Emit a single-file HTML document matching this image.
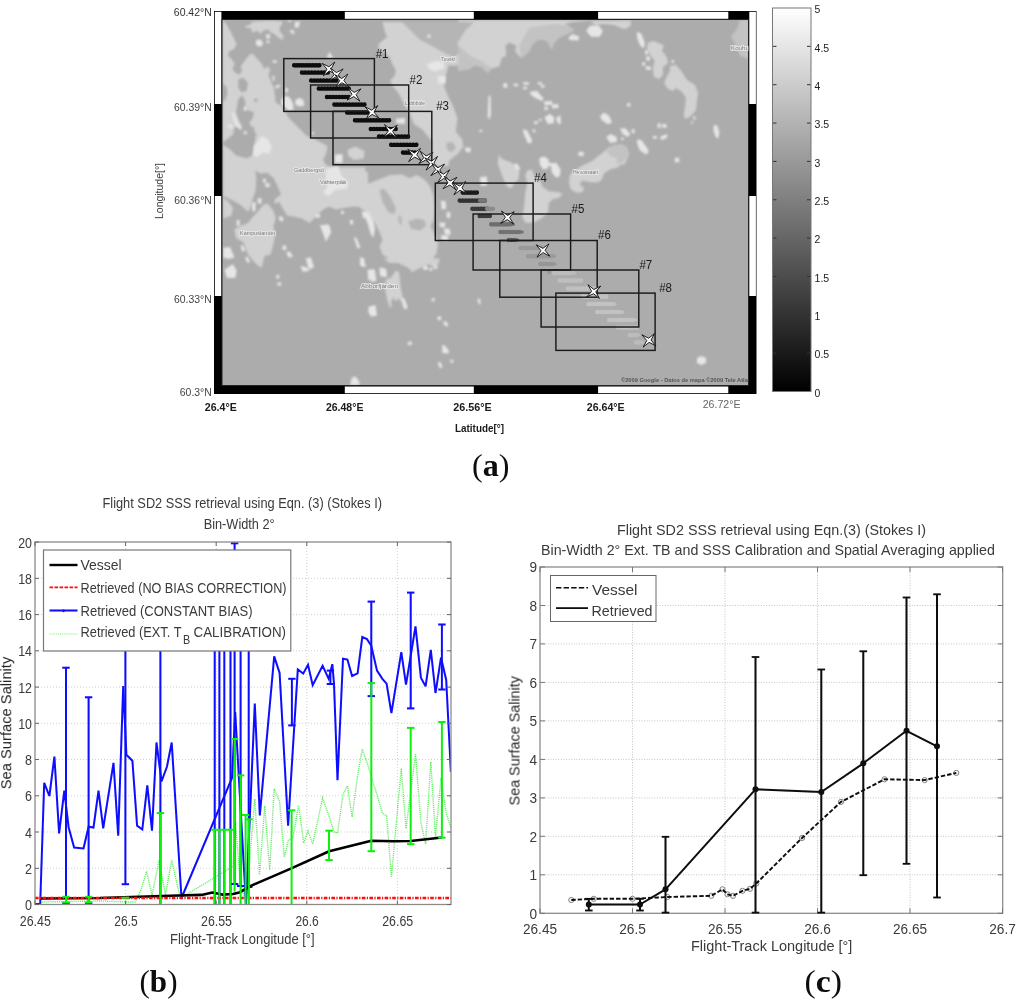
<!DOCTYPE html>
<html lang="en"><head><meta charset="utf-8"><title>Figure: Flight SD2 SSS retrieval</title>
<style>html,body{margin:0;padding:0;background:#fff}body{width:1016px;height:1000px;overflow:hidden}svg{display:block}</style></head>
<body>
<svg width="1016" height="1000" viewBox="0 0 1016 1000">
<defs>
<filter id="b1" x="-5%" y="-5%" width="110%" height="110%"><feGaussianBlur stdDeviation="1.1"/></filter>
<filter id="b08" x="-5%" y="-5%" width="110%" height="110%"><feGaussianBlur stdDeviation="0.8"/></filter>
<filter id="b05" x="-5%" y="-5%" width="110%" height="110%"><feGaussianBlur stdDeviation="0.5"/></filter>
<filter id="bt" x="-10%" y="-30%" width="120%" height="160%"><feGaussianBlur stdDeviation="0.45"/></filter>
<filter id="bc" x="-2%" y="-2%" width="104%" height="104%"><feGaussianBlur stdDeviation="0.4"/></filter>
<clipPath id="mapclip"><rect x="222" y="19.5" width="526.5" height="366"/></clipPath>
<clipPath id="bclip"><rect x="35" y="542" width="416" height="362.5"/></clipPath>
<linearGradient id="cb" x1="0" y1="0" x2="0" y2="1"><stop offset="0" stop-color="#ffffff"/><stop offset="1" stop-color="#000000"/></linearGradient>
</defs>
<rect width="1016" height="1000" fill="#fff"/>
<g id="panel-a">
<rect x="214" y="11" width="542.5" height="383" fill="#000"/>
<rect x="214.8" y="11.8" width="6.6" height="92.2" fill="#fff"/>
<rect x="214.8" y="196" width="6.6" height="100" fill="#fff"/>
<rect x="749.3" y="11.8" width="6.6" height="92.2" fill="#fff"/>
<rect x="749.3" y="196" width="6.6" height="100" fill="#fff"/>
<rect x="344.8" y="11.8" width="129" height="7" fill="#fff"/>
<rect x="598.1" y="11.8" width="130.2" height="7" fill="#fff"/>
<rect x="344.8" y="386.5" width="129" height="6.7" fill="#fff"/>
<rect x="598.1" y="386.5" width="130.2" height="6.7" fill="#fff"/>
<rect x="222" y="19" width="527" height="367" fill="#acacac"/>
<g clip-path="url(#mapclip)"><g filter="url(#b1)">
<polygon points="222.8,20.8 225.2,22.6 230.0,30.4 233.0,36.4 236.6,44.2 234.2,49.0 228.8,51.4 228.2,55.6 231.8,59.8 234.8,63.4 232.4,68.8 234.8,72.4 239.0,74.8 242.0,71.2 240.8,66.4 243.2,62.8 249.8,54.4 252.8,53.8 257.6,59.2 261.8,64.0 264.2,68.8 268.4,66.4 270.2,70.0 268.4,74.8 270.8,80.8 273.8,88.0 275.0,95.2 275.6,102.4 281.6,106.0 285.2,112.0 288.8,118.0 294.8,124.0 302.0,131.2 306.8,136.0 306.8,148.0 222.8,148.0" fill="#d2d2d2"/>
<polygon points="245.0,26.2 250.4,24.4 252.8,21.4 268.4,20.8 278.0,20.8 280.4,25.6 279.2,30.4 283.4,35.8 282.8,40.0 278.0,37.6 274.4,34.0 270.8,32.8 268.4,29.2 263.6,30.4 260.0,34.0 257.6,30.4 252.8,32.8 250.4,28.0 246.2,28.0" fill="#d2d2d2"/>
<polygon points="382.5,22.0 402.0,22.0 474.0,22.0 480.0,22.0 480.0,65.5 469.5,65.5 448.5,65.5 445.5,76.0 444.0,86.5 448.5,97.0 453.0,106.0 457.5,118.0 456.0,130.0 453.0,143.5 450.0,155.5 448.5,166.0 432.0,166.0 432.0,140.5 427.5,136.0 423.0,130.0 414.0,124.0 411.7,118.0 409.5,112.0 405.0,106.0 402.0,100.0 399.0,94.0 393.0,86.5 390.0,80.5 394.5,76.0 396.0,70.0 393.0,65.5 390.0,58.0 384.0,52.0 378.0,47.5 379.5,43.0 387.0,37.0 384.7,31.0" fill="#d2d2d2"/>
<polygon points="348.0,149.5 355.5,146.5 364.5,151.0 363.7,158.5 354.0,160.0 348.0,155.5" fill="#d2d2d2"/>
<polygon points="223.2,136.0 306.8,136.0 314.0,139.0 323.0,143.5 327.5,146.5 326.0,154.0 323.0,160.0 326.0,165.2 333.5,167.2 368.0,167.2 368.0,205.0 362.0,207.2 353.0,206.5 344.0,208.0 336.5,209.5 329.0,206.5 323.0,209.5 317.0,215.5 309.5,223.0 302.0,218.5 296.0,217.0 287.0,215.5 282.5,208.0 279.5,202.0 274.2,203.5 275.0,199.0 281.0,194.5 278.0,187.0 273.5,178.0 267.5,172.7 260.0,173.5 255.5,170.5 256.2,179.5 255.8,190.0 253.2,197.5 250.2,208.0 248.0,211.7 240.5,205.0 233.0,200.5 223.2,196.0" fill="#d2d2d2"/>
<polygon points="263.0,205.0 267.5,203.5 273.5,211.0 275.7,218.5 273.5,226.0 275.0,235.0 273.5,244.0 270.5,254.5 264.5,256.0 261.5,268.0 255.5,263.5 248.0,254.5 243.5,242.5 236.0,238.0 234.5,229.0 240.5,226.0 248.0,223.0 252.5,217.0 258.5,211.0" fill="#d2d2d2"/>
<polygon points="223.2,197.5 228.5,202.0 233.0,208.0 231.5,215.5 223.2,218.5" fill="#d2d2d2"/>
<polygon points="382.5,178.0 390.0,175.0 402.0,174.2 409.5,178.0 417.0,175.0 424.5,179.5 430.5,187.0 433.5,196.0 434.2,208.0 433.5,220.0 430.5,226.0 435.0,235.0 438.0,244.0 436.5,253.0 432.0,260.5 427.5,265.0 420.0,268.0 412.5,271.7 405.0,265.0 397.5,260.5 390.0,259.0 382.5,254.5 379.5,247.0 382.5,239.5 379.5,232.0 375.0,223.0 369.0,214.0 360.0,208.0 360.0,187.0 375.0,181.0" fill="#d2d2d2"/>
<polygon points="432.0,128.5 453.0,128.5 462.0,139.0 463.5,146.5 457.5,154.0 450.0,160.0 444.0,164.5 438.0,160.0 433.5,152.5 432.0,142.0" fill="#d2d2d2"/>
<polygon points="383.6,258.5 439.7,258.5 438.3,264.4 433.8,267.4 429.4,264.4 425.0,263.0 419.1,264.4 414.6,268.9 411.7,271.8 408.7,267.4 404.3,265.9 398.4,263.0 389.5,263.0" fill="#d2d2d2"/>
<polygon points="395.4,271.1 399.1,271.8 400.6,286.6 402.8,298.4 407.2,307.2 404.3,309.5 401.3,301.3 398.4,298.4 395.4,301.3 393.2,296.9 391.0,302.8 391.7,307.2 389.5,307.2 387.3,299.9 385.1,289.5 385.8,279.2 391.0,277.7" fill="#d2d2d2"/>
<polygon points="458.2,19.9 458.2,71.1 470.0,69.1 473.9,65.2 481.8,67.2 487.7,73.1 491.7,68.2 499.5,66.2 501.5,58.3 506.4,55.4 505.4,45.5 509.4,42.6 516.3,45.5 515.3,51.4 521.2,58.3 529.1,51.4 533.0,43.6 538.9,39.6 546.8,40.6 551.7,49.5 553.7,43.6 558.6,37.7 568.4,33.7 574.3,29.8 568.4,25.8 564.5,23.9 572.4,21.9 588.1,20.7 607.8,20.7 631.4,20.7 629.4,26.8 623.5,28.8 613.7,24.9 603.9,23.9 596.0,24.9 588.1,19.9" fill="#d2d2d2"/>
<polygon points="648.1,42.6 655.0,41.6 663.9,45.5 661.9,50.4 666.9,57.3 667.8,63.2 661.9,67.2 662.9,75.1 659.0,79.0 654.1,75.1 653.1,67.2 655.0,59.3 650.1,53.4 647.2,47.5" fill="#d2d2d2"/>
<polygon points="588.1,166.0 596.0,157.7 603.9,151.8 607.8,147.9 615.7,144.9 625.5,145.9 628.5,151.8 627.5,157.7 621.6,162.7 615.7,166.0" fill="#d2d2d2"/>
<polygon points="648.0,43.0 653.0,41.0 663.0,46.0 660.0,50.0 665.0,57.0 668.0,63.0 663.0,67.0 663.0,74.0 659.0,79.0 654.0,77.0 653.0,69.0 655.0,61.0 650.0,55.0 647.0,49.0" fill="#d2d2d2"/>
<polygon points="670.0,66.0 676.0,65.0 682.0,72.0 687.0,80.0 695.0,85.0 698.0,93.0 697.0,100.0 696.0,110.0 691.0,116.0 686.0,119.0 683.6,116.0 685.0,107.0 686.0,98.0 682.0,92.0 676.0,88.0 673.0,91.0 668.0,89.0 664.0,83.0 667.0,76.0 670.0,71.0" fill="#d2d2d2"/>
<polygon points="740.0,22.0 744.0,28.0 743.0,36.0 749.0,38.0 749.0,56.0 744.0,54.0 740.0,48.0 736.0,40.0 738.0,32.0" fill="#d2d2d2"/>
<polygon points="620.0,20.4 630.0,20.4 631.0,25.0 626.0,29.0 620.0,28.0" fill="#d2d2d2"/>
<polygon points="620.0,146.0 626.0,147.0 629.0,154.0 625.0,164.0 620.0,165.0" fill="#d2d2d2"/>
<polygon points="569.6,175.4 573.5,171.5 582.4,165.6 590.2,161.7 598.1,157.7 606.0,149.8 613.9,145.9 621.7,143.9 627.6,147.9 628.6,155.7 623.7,161.7 617.8,167.6 609.9,169.5 604.0,173.5 602.0,179.4 598.1,182.3 590.2,182.3 582.4,180.4 579.4,184.3 584.3,188.2 582.4,192.2 576.5,192.8 570.6,189.2 569.0,182.3" fill="#d2d2d2"/>
<polygon points="498.7,154.8 501.7,158.7 509.5,161.7 515.4,165.6 519.4,171.5 518.4,179.4 513.5,184.3 511.5,188.2 507.6,187.2 503.6,179.4 500.7,171.5 497.7,163.6" fill="#d2d2d2"/>
<polygon points="527.2,170.5 532.2,169.5 534.1,175.4 539.1,179.4 543.0,187.2 548.9,191.2 558.7,192.2 562.7,194.1 558.7,198.1 552.8,199.1 548.9,203.0 547.9,212.8 541.0,218.7 533.1,222.7 525.3,222.7 522.3,216.8 524.3,205.0 525.3,193.1 527.2,183.3 525.3,175.4" fill="#d2d2d2"/>
<polygon points="458.2,45.5 470.0,55.4 481.8,61.3 491.7,68.2 487.7,73.1 481.8,67.2 473.9,65.2 470.0,69.1 458.2,71.1" fill="#c3c3c3"/>
<polygon points="519.2,45.5 529.1,27.8 552.7,23.9 568.4,25.8 574.3,29.8 568.4,33.7 558.6,37.7 553.7,43.6 551.7,49.5 546.8,40.6 538.9,39.6 533.0,43.6 529.1,51.4 521.2,58.3" fill="#c3c3c3"/>
<polygon points="731.0,36.0 735.0,32.0 738.0,26.0 740.0,20.0 749.0,20.0 749.0,59.0 740.0,56.0 736.0,46.0" fill="#c3c3c3"/>
<polygon points="606.0,149.8 613.9,145.9 621.7,143.9 627.6,147.9 628.6,155.7 623.7,161.7 617.8,164.6 615.8,157.7 609.9,155.7" fill="#c3c3c3"/>
<polygon points="402.0,22.0 474.0,22.0 465.0,31.0 457.5,43.0 459.0,52.0 454.5,58.0 445.5,53.5 439.5,50.5 432.0,46.0 420.0,40.0 409.5,29.5" fill="#b5b5b5"/>
<polygon points="379.5,190.0 384.0,188.5 390.0,196.0 396.0,208.0 394.5,214.0 388.5,212.5 382.5,202.0" fill="#b5b5b5"/>
<polygon points="408.0,221.5 417.0,218.5 424.5,220.0 426.0,226.0 420.0,230.5 411.0,229.0" fill="#b5b5b5"/>
<polygon points="398.2,215.5 401.2,216.2 402.0,224.5 399.0,223.7" fill="#b5b5b5"/>
<polygon points="446.2,142.7 453.0,142.0 456.0,148.0 451.5,152.5 447.0,149.5" fill="#b5b5b5"/>
<polygon points="222.8,83.2 226.4,86.8 227.6,94.0 225.2,100.0 222.8,102.4" fill="#acacac"/>
<polygon points="238.4,98.8 242.0,95.2 245.0,100.0 245.6,107.2 249.2,110.8 254.0,112.0 252.8,118.0 249.2,122.8 252.8,128.8 257.6,136.0 248.0,136.0 245.6,131.2 242.0,126.4 238.4,119.2 236.0,112.0 237.2,104.8" fill="#acacac"/>
<polygon points="238.4,79.0 243.8,77.8 248.0,83.2 246.8,90.4 242.0,92.8 238.4,88.0" fill="#acacac"/>
<polygon points="254.0,98.8 257.6,98.8 257.6,101.8 254.0,101.8" fill="#acacac"/>
<polygon points="223.2,145.0 230.0,149.5 236.0,155.5 246.5,158.5 252.5,155.5 254.0,146.5 255.5,139.0 254.0,127.0 234.5,127.0 233.0,134.5 227.0,139.0 223.2,142.0" fill="#acacac"/>
<polygon points="364.5,165.2 432.0,165.2 432.0,179.5 424.5,179.5 417.0,175.0 409.5,178.0 402.0,174.2 390.0,175.0 382.5,178.0 375.0,175.0 366.0,172.0" fill="#acacac"/>
</g><g filter="url(#b08)">
<polygon points="255.4,41.8 257.6,39.4 261.2,40.0 263.0,43.6 261.2,46.6 257.0,46.0" fill="#e6e6e6"/>
<polygon points="266.0,34.6 269.6,34.0 270.2,38.2 266.6,38.8" fill="#e6e6e6"/>
<polygon points="266.6,40.6 269.6,40.6 269.6,43.0 266.6,43.0" fill="#e6e6e6"/>
<polygon points="290.0,29.8 293.6,30.2 294.8,34.0 291.2,33.4" fill="#e6e6e6"/>
<polygon points="294.8,22.0 300.2,21.4 298.4,27.4 294.8,28.0" fill="#e6e6e6"/>
<polygon points="288.2,20.2 291.2,20.2 291.2,22.0 288.2,22.0" fill="#e6e6e6"/>
<polygon points="279.2,21.4 281.6,21.4 281.6,25.0 279.2,25.0" fill="#e6e6e6"/>
<polygon points="272.6,60.4 276.8,60.4 276.8,62.8 272.6,62.8" fill="#e6e6e6"/>
<polygon points="329.6,51.8 333.2,58.0 326.6,58.0" fill="#e6e6e6"/>
<polygon points="272.6,75.4 274.4,75.4 274.4,80.8 272.6,80.8" fill="#e6e6e6"/>
<polygon points="274.4,86.8 279.2,84.2 280.4,86.2 276.2,88.8" fill="#e6e6e6"/>
<polygon points="285.2,88.0 288.2,88.0 287.6,92.8 285.2,92.2" fill="#e6e6e6"/>
<polygon points="281.0,100.0 285.2,95.8 290.0,97.6 293.0,103.6 293.6,109.6 288.8,110.8 285.2,107.2 281.6,105.4" fill="#e6e6e6"/>
<polygon points="295.4,100.0 299.6,97.8 303.4,100.0 304.4,105.4 299.6,106.6 295.4,104.8" fill="#e6e6e6"/>
<polygon points="243.8,106.6 246.8,106.6 246.8,110.8 243.8,110.8" fill="#e6e6e6"/>
<polygon points="228.2,124.6 232.4,124.6 232.4,128.2 228.2,128.2" fill="#e6e6e6"/>
<polygon points="231.2,112.0 234.2,113.2 237.2,121.6 242.0,128.8 240.2,130.0 234.8,124.0" fill="#e6e6e6"/>
<polygon points="243.8,131.2 246.8,131.2 246.8,134.2 243.8,134.2" fill="#e6e6e6"/>
<polygon points="311.6,131.8 314.0,131.8 314.0,134.2 311.6,134.2" fill="#e6e6e6"/>
<polygon points="427.5,64.0 435.0,61.0 444.0,61.7 444.0,68.5 435.0,71.5 428.2,68.5" fill="#e6e6e6"/>
<polygon points="438.0,76.0 445.5,76.0 445.5,83.5 438.0,83.5" fill="#e6e6e6"/>
<polygon points="396.0,118.7 405.0,118.0 405.0,124.0 396.0,123.2" fill="#e6e6e6"/>
<polygon points="427.5,34.7 430.5,34.7 430.5,37.7 427.5,37.7" fill="#e6e6e6"/>
<polygon points="254.0,146.5 261.5,136.0 267.5,139.0 272.0,146.5 269.0,154.0 263.0,152.5 257.0,157.0 253.2,155.5" fill="#e6e6e6"/>
<polygon points="326.0,169.0 338.0,166.0 341.0,175.0 348.5,182.5 347.0,188.5 335.0,190.0 329.0,196.0 323.0,193.0 327.5,187.0 326.0,178.0" fill="#e6e6e6"/>
<polygon points="320.0,225.2 329.0,224.5 331.2,232.0 326.0,241.7" fill="#e6e6e6"/>
<polygon points="305.7,258.2 311.0,257.5 314.0,267.2 308.7,269.5" fill="#e6e6e6"/>
<polygon points="300.5,265.7 306.5,267.2 309.5,271.0 302.7,271.7" fill="#e6e6e6"/>
<polygon points="224.7,269.5 233.0,264.2 236.7,271.0 235.2,277.7 227.0,277.7" fill="#e6e6e6"/>
<polygon points="223.2,247.7 230.0,247.0 234.5,257.5 228.5,259.0 223.2,257.5" fill="#e6e6e6"/>
<polygon points="286.2,252.2 290.0,251.5 293.0,256.7 288.5,257.5" fill="#e6e6e6"/>
<polygon points="282.5,245.5 286.2,245.5 286.2,250.0 282.5,250.0" fill="#e6e6e6"/>
<polygon points="245.0,257.5 248.0,256.7 250.2,262.0 247.2,262.7" fill="#e6e6e6"/>
<polygon points="240.5,245.5 243.5,245.5 245.7,250.7 242.0,251.5" fill="#e6e6e6"/>
<polygon points="353.7,237.2 356.7,238.0 360.5,247.7 357.5,248.5" fill="#e6e6e6"/>
<polygon points="359.7,257.5 362.7,258.2 365.7,266.5 362.7,267.2" fill="#e6e6e6"/>
<polygon points="251.7,202.7 255.5,202.0 255.5,211.0 252.5,211.7" fill="#e6e6e6"/>
<polygon points="257.7,198.2 261.5,198.2 261.5,203.5 257.7,203.5" fill="#e6e6e6"/>
<polygon points="263.0,178.7 266.0,178.7 266.0,182.5 263.0,182.5" fill="#e6e6e6"/>
<polygon points="265.2,183.2 269.7,183.2 269.7,187.0 265.2,187.0" fill="#e6e6e6"/>
<polygon points="236.7,220.0 239.7,220.0 239.7,226.0 236.7,226.0" fill="#e6e6e6"/>
<polygon points="278.7,216.2 283.2,217.0 283.2,221.5 279.5,220.7" fill="#e6e6e6"/>
<polygon points="315.5,214.0 320.0,214.0 320.0,217.7 315.5,217.7" fill="#e6e6e6"/>
<polygon points="362.0,211.0 368.0,211.7 368.0,218.5 362.7,217.7" fill="#e6e6e6"/>
<polygon points="335.0,154.7 342.5,154.0 342.5,163.0 335.0,163.0" fill="#e6e6e6"/>
<polygon points="341.0,211.0 344.0,211.0 344.0,214.0 341.0,214.0" fill="#e6e6e6"/>
<polygon points="350.0,220.0 353.0,220.0 353.0,224.5 350.0,224.5" fill="#e6e6e6"/>
<polygon points="363.0,212.5 369.0,211.7 373.5,220.0 375.0,229.0 373.5,238.0 370.5,233.5 367.5,223.0" fill="#e6e6e6"/>
<polygon points="480.0,177.2 486.7,176.5 487.5,183.2 480.7,184.0" fill="#e6e6e6"/>
<polygon points="465.0,147.2 471.0,148.0 470.2,152.5 465.7,151.7" fill="#e6e6e6"/>
<polygon points="441.0,200.5 445.5,201.2 446.2,208.7 441.7,209.5" fill="#e6e6e6"/>
<polygon points="446.7,211.7 450.4,212.2 450.0,218.5 446.7,217.7" fill="#e6e6e6"/>
<polygon points="439.5,222.2 445.5,223.0 444.7,227.5 439.8,226.7" fill="#e6e6e6"/>
<polygon points="444.0,228.2 450.0,229.0 450.7,235.0 444.7,234.2" fill="#e6e6e6"/>
<polygon points="441.0,235.0 448.5,235.7 447.7,241.0 441.7,240.2" fill="#e6e6e6"/>
<polygon points="360.0,257.5 364.5,258.2 364.2,266.5 360.0,265.7" fill="#e6e6e6"/>
<polygon points="367.5,269.5 375.0,270.2 375.7,280.0 368.2,280.0" fill="#e6e6e6"/>
<polygon points="379.5,268.0 386.2,268.7 387.0,277.0 380.2,276.2" fill="#e6e6e6"/>
<polygon points="423.0,265.7 427.5,265.7 427.5,269.5 423.0,269.5" fill="#e6e6e6"/>
<polygon points="224.6,270.3 232.8,264.4 236.5,271.1 235.0,277.4 226.9,277.7" fill="#e6e6e6"/>
<polygon points="276.3,274.8 279.3,274.8 279.3,278.5 276.3,278.5" fill="#e6e6e6"/>
<polygon points="277.1,282.9 281.5,282.1 280.7,285.8 277.4,285.4" fill="#e6e6e6"/>
<polygon points="350.1,385.2 351.6,378.1 355.3,376.3 359.0,381.1 359.7,385.2" fill="#e6e6e6"/>
<polygon points="368.1,270.3 374.0,268.9 376.5,280.7 371.8,282.1 368.9,277.7" fill="#e6e6e6"/>
<polygon points="379.2,268.1 382.1,267.4 386.9,275.5 384.4,276.5" fill="#e6e6e6"/>
<polygon points="368.9,306.5 375.5,305.0 377.0,315.4 371.1,316.8 368.1,311.7" fill="#e6e6e6"/>
<polygon points="360.0,260.0 363.7,260.0 365.9,265.9 363.0,266.6" fill="#e6e6e6"/>
<polygon points="431.6,298.1 434.6,298.1 434.6,301.3 431.6,301.3" fill="#e6e6e6"/>
<polygon points="437.5,316.5 441.2,316.5 441.2,320.2 437.5,320.2" fill="#e6e6e6"/>
<polygon points="442.7,322.0 446.4,321.3 448.6,325.7 445.6,326.4" fill="#e6e6e6"/>
<polygon points="407.2,342.7 410.9,340.9 412.4,344.2 408.7,345.6" fill="#e6e6e6"/>
<polygon points="442.4,344.2 445.6,346.4 449.0,350.8 448.3,353.8 442.1,352.7" fill="#e6e6e6"/>
<polygon points="437.5,362.6 440.5,361.9 442.7,367.0 440.0,368.5" fill="#e6e6e6"/>
<polygon points="450.4,359.8 453.3,359.8 453.3,362.8 450.4,362.8" fill="#e6e6e6"/>
<polygon points="477.1,298.7 479.6,298.4 481.1,303.6 478.9,304.3" fill="#e6e6e6"/>
<polygon points="423.5,267.4 427.2,265.9 427.9,268.9 424.7,270.0" fill="#e6e6e6"/>
<polygon points="429.1,268.1 432.3,267.7 432.6,270.6 429.4,270.9" fill="#e6e6e6"/>
<polygon points="433.8,265.9 437.1,265.6 437.5,268.6 434.3,269.2" fill="#e6e6e6"/>
<polygon points="401.3,297.6 404.3,298.4 407.5,307.5 405.0,309.5" fill="#e6e6e6"/>
<polygon points="586.1,30.8 590.1,25.8 598.0,24.9 602.9,30.8 599.9,36.7 591.1,36.7" fill="#e6e6e6"/>
<polygon points="568.4,37.7 572.4,34.1 579.3,36.7 578.3,40.6 569.4,40.0" fill="#e6e6e6"/>
<polygon points="637.3,31.7 641.3,33.7 644.8,43.6 643.6,48.5 640.3,45.5 637.3,37.7" fill="#e6e6e6"/>
<polygon points="645.2,50.4 648.1,50.4 648.1,54.4 645.2,54.4" fill="#e6e6e6"/>
<polygon points="646.2,56.4 650.1,56.4 650.1,60.3 646.2,60.3" fill="#e6e6e6"/>
<polygon points="642.2,62.3 645.2,62.3 645.2,65.2 642.2,65.2" fill="#e6e6e6"/>
<polygon points="645.8,66.2 651.1,66.8 651.1,69.5 645.8,69.1" fill="#e6e6e6"/>
<polygon points="503.1,83.9 506.4,82.5 507.8,87.3 503.5,87.9" fill="#e6e6e6"/>
<polygon points="513.7,83.5 518.2,84.1 518.2,86.5 513.7,86.1" fill="#e6e6e6"/>
<polygon points="523.1,81.9 529.1,82.5 528.7,84.9 523.1,84.5" fill="#e6e6e6"/>
<polygon points="523.1,86.9 527.1,86.9 527.1,89.2 523.1,89.2" fill="#e6e6e6"/>
<polygon points="537.9,81.9 541.9,82.3 541.9,84.9 537.9,84.5" fill="#e6e6e6"/>
<polygon points="541.3,84.9 544.4,84.9 544.4,87.9 541.3,87.9" fill="#e6e6e6"/>
<polygon points="530.0,91.8 536.9,90.8 543.8,98.7 541.9,101.0 535.0,97.7 530.6,94.7" fill="#e6e6e6"/>
<polygon points="543.8,101.6 551.7,101.0 552.7,104.6 544.8,105.6" fill="#e6e6e6"/>
<polygon points="551.7,104.6 558.2,104.0 558.6,108.1 552.3,108.5" fill="#e6e6e6"/>
<polygon points="544.4,106.9 547.8,106.9 547.8,110.1 544.4,110.1" fill="#e6e6e6"/>
<polygon points="544.4,117.4 549.7,113.8 554.3,117.4 553.7,123.3 547.8,123.9" fill="#e6e6e6"/>
<polygon points="556.0,117.4 560.6,115.4 560.9,124.3 557.6,123.3" fill="#e6e6e6"/>
<polygon points="534.0,121.3 537.9,121.3 537.9,123.9 534.0,123.9" fill="#e6e6e6"/>
<polygon points="538.9,118.8 541.9,118.8 541.9,120.7 538.9,120.7" fill="#e6e6e6"/>
<polygon points="488.5,95.7 490.5,95.7 490.9,114.4 489.3,119.9 487.7,116.4" fill="#e6e6e6"/>
<polygon points="479.4,129.8 482.2,129.8 482.2,132.1 479.4,132.1" fill="#e6e6e6"/>
<polygon points="522.8,129.2 527.1,130.2 531.4,139.0 531.0,143.6 527.5,142.0 524.1,135.1" fill="#e6e6e6"/>
<polygon points="532.6,129.2 535.4,129.8 535.4,132.5 532.6,132.1" fill="#e6e6e6"/>
<polygon points="599.9,116.4 603.9,112.5 608.8,115.4 612.1,122.3 607.8,124.3 601.9,120.3" fill="#e6e6e6"/>
<polygon points="627.1,103.2 630.4,103.2 630.4,106.2 627.1,106.2" fill="#e6e6e6"/>
<polygon points="606.2,137.1 610.7,134.1 616.7,137.1 616.7,142.0 610.2,143.0" fill="#e6e6e6"/>
<polygon points="620.0,128.6 625.5,128.2 630.4,134.1 627.5,137.1 622.6,134.1" fill="#e6e6e6"/>
<polygon points="631.8,128.8 634.6,129.2 634.6,133.5 631.8,133.1" fill="#e6e6e6"/>
<polygon points="621.2,137.7 623.9,137.7 623.9,140.0 621.2,140.0" fill="#e6e6e6"/>
<polygon points="658.0,123.3 660.6,123.3 660.6,127.8 658.0,127.8" fill="#e6e6e6"/>
<polygon points="662.5,123.9 666.5,124.3 666.5,127.8 662.5,127.4" fill="#e6e6e6"/>
<polygon points="653.1,136.1 656.6,136.5 656.6,138.8 653.1,138.4" fill="#e6e6e6"/>
<polygon points="660.6,137.1 666.9,134.1 667.2,137.7 661.3,140.0" fill="#e6e6e6"/>
<polygon points="637.3,139.6 640.3,140.0 643.2,145.9 648.7,151.8 646.2,154.2 640.3,149.9 637.7,144.0" fill="#e6e6e6"/>
<polygon points="579.3,152.2 583.6,152.2 583.6,155.8 579.3,155.8" fill="#e6e6e6"/>
<polygon points="539.9,157.7 545.8,156.7 548.7,162.7 556.6,163.6 555.6,166.0 540.9,166.0" fill="#e6e6e6"/>
<polygon points="637.0,32.0 641.0,34.0 644.4,42.0 644.0,48.0 640.0,45.0 637.0,37.0" fill="#e6e6e6"/>
<polygon points="645.0,51.0 648.0,51.0 648.0,54.0 645.0,54.0" fill="#e6e6e6"/>
<polygon points="647.0,57.0 650.0,57.0 650.0,60.4 647.0,60.4" fill="#e6e6e6"/>
<polygon points="642.4,63.0 645.0,63.0 645.0,65.6 642.4,65.6" fill="#e6e6e6"/>
<polygon points="646.0,66.6 651.0,67.2 651.0,70.0 646.0,69.6" fill="#e6e6e6"/>
<polygon points="671.6,60.0 674.0,60.0 674.0,63.0 671.6,63.0" fill="#e6e6e6"/>
<polygon points="693.0,116.6 695.6,116.6 695.6,119.4 693.0,119.4" fill="#e6e6e6"/>
<polygon points="691.0,121.4 693.0,121.4 693.0,123.6 691.0,123.6" fill="#e6e6e6"/>
<polygon points="713.6,125.6 717.0,125.0 719.4,132.0 718.4,138.4 715.6,137.0 713.6,131.0" fill="#e6e6e6"/>
<polygon points="627.0,103.4 630.0,103.4 630.0,106.4 627.0,106.4" fill="#e6e6e6"/>
<polygon points="657.6,124.0 660.0,124.0 660.0,127.6 657.6,127.6" fill="#e6e6e6"/>
<polygon points="662.0,124.6 666.4,125.0 666.4,127.6 662.0,127.2" fill="#e6e6e6"/>
<polygon points="653.0,136.0 656.4,136.0 656.4,138.4 653.0,138.4" fill="#e6e6e6"/>
<polygon points="660.0,137.0 666.0,134.4 667.2,137.0 661.6,140.0" fill="#e6e6e6"/>
<polygon points="637.0,140.0 640.0,140.4 643.0,146.0 648.4,152.0 646.0,154.4 640.0,150.4 637.6,145.0" fill="#e6e6e6"/>
<polygon points="675.0,158.4 679.0,158.0 679.4,162.0 675.4,162.4" fill="#e6e6e6"/>
<polygon points="550.9,165.6 555.8,162.6 560.7,169.5 559.7,176.4 555.8,177.4 551.9,172.5" fill="#e6e6e6"/>
<polygon points="539.1,158.7 543.0,156.7 548.9,159.7 547.9,168.5 543.0,169.5 540.0,164.6" fill="#e6e6e6"/>
<polygon points="578.4,151.8 583.3,151.8 583.3,155.7 578.4,155.7" fill="#e6e6e6"/>
<polygon points="637.5,141.0 641.4,140.0 648.3,149.8 646.3,153.8 641.4,150.8 638.5,145.9" fill="#e6e6e6"/>
<polygon points="674.9,157.7 678.8,157.7 678.8,162.0 674.9,162.0" fill="#e6e6e6"/>
<polygon points="480.0,177.4 485.9,176.4 486.9,185.3 481.0,186.3" fill="#e6e6e6"/>
<polygon points="527.2,138.0 531.6,138.0 531.6,143.0 527.2,143.0" fill="#e6e6e6"/>
<polygon points="513.5,164.6 517.4,163.6 520.4,169.5 516.4,170.5" fill="#e6e6e6"/>
<polygon points="697,358 701,356 706,358 706,363 701,365 697,363" fill="#e6e6e6"/>
</g></g>
<rect x="222" y="19.5" width="526.5" height="366" fill="none" stroke="#222" stroke-width="1"/>
<g clip-path="url(#mapclip)">
<text x="441" y="61" font-family='"Liberation Sans", sans-serif' font-size="5" fill="#777" stroke="#e8e8e8" stroke-width="1.6" paint-order="stroke" textLength="14" lengthAdjust="spacingAndGlyphs" filter="url(#b05)">Tuuski</text>
<text x="405" y="104.5" font-family='"Liberation Sans", sans-serif' font-size="5" fill="#777" stroke="#e8e8e8" stroke-width="1.6" paint-order="stroke" textLength="20" lengthAdjust="spacingAndGlyphs" filter="url(#b05)">Labbböle</text>
<text x="294" y="172" font-family='"Liberation Sans", sans-serif' font-size="5" fill="#777" stroke="#e8e8e8" stroke-width="1.6" paint-order="stroke" textLength="30" lengthAdjust="spacingAndGlyphs" filter="url(#b05)">Gaddbergsö</text>
<text x="320" y="184" font-family='"Liberation Sans", sans-serif' font-size="5" fill="#777" stroke="#e8e8e8" stroke-width="1.6" paint-order="stroke" textLength="26" lengthAdjust="spacingAndGlyphs" filter="url(#b05)">Vahterpää</text>
<text x="240" y="235" font-family='"Liberation Sans", sans-serif' font-size="5" fill="#777" stroke="#e8e8e8" stroke-width="1.6" paint-order="stroke" textLength="35" lengthAdjust="spacingAndGlyphs" filter="url(#b05)">Kampuslandet</text>
<text x="361" y="288" font-family='"Liberation Sans", sans-serif' font-size="5" fill="#777" stroke="#e8e8e8" stroke-width="1.6" paint-order="stroke" textLength="37" lengthAdjust="spacingAndGlyphs" filter="url(#b05)">Abborfjärden</text>
<text x="573" y="174" font-family='"Liberation Sans", sans-serif' font-size="5" fill="#777" stroke="#e8e8e8" stroke-width="1.6" paint-order="stroke" textLength="25" lengthAdjust="spacingAndGlyphs" filter="url(#b05)">Hevossaari</text>
<text x="731" y="50" font-family='"Liberation Sans", sans-serif' font-size="5" fill="#777" stroke="#e8e8e8" stroke-width="1.6" paint-order="stroke" textLength="18" lengthAdjust="spacingAndGlyphs" filter="url(#b05)">Kouhu</text>
<text x="621" y="382" font-family='"Liberation Sans", sans-serif' font-size="6" font-weight="bold" fill="#555" textLength="130" lengthAdjust="spacingAndGlyphs" filter="url(#b05)">©2009 Google - Datos de mapa ©2009 Tele Atlas</text>
<g filter="url(#b05)" stroke-linecap="round">
<line x1="294.2" y1="65.2" x2="319.5" y2="65.2" stroke="#0a0a0a" stroke-width="4.5" stroke-dasharray="0.01 3.14"/>
<line x1="294.2" y1="65.2" x2="319.4" y2="65.2" stroke="#0a0a0a" stroke-width="3.2"/>
<line x1="302.0" y1="72.5" x2="327.9" y2="72.5" stroke="#0a0a0a" stroke-width="4.5" stroke-dasharray="0.01 3.215"/>
<line x1="302.0" y1="72.5" x2="327.8" y2="72.5" stroke="#0a0a0a" stroke-width="3.2"/>
<line x1="311.2" y1="80.5" x2="336.4" y2="80.5" stroke="#0a0a0a" stroke-width="4.5" stroke-dasharray="0.01 3.128"/>
<line x1="311.2" y1="80.5" x2="336.3" y2="80.5" stroke="#0a0a0a" stroke-width="3.2"/>
<line x1="318.8" y1="88.5" x2="348.7" y2="88.5" stroke="#0a0a0a" stroke-width="4.5" stroke-dasharray="0.01 2.97"/>
<line x1="318.8" y1="88.5" x2="348.6" y2="88.5" stroke="#0a0a0a" stroke-width="3.2"/>
<line x1="327.0" y1="97" x2="348.4" y2="97" stroke="#0a0a0a" stroke-width="4.5" stroke-dasharray="0.01 3.033"/>
<line x1="327.0" y1="97" x2="348.3" y2="97" stroke="#0a0a0a" stroke-width="3.2"/>
<line x1="334.4" y1="104.6" x2="364.5" y2="104.6" stroke="#0a0a0a" stroke-width="4.5" stroke-dasharray="0.01 2.99"/>
<line x1="334.4" y1="104.6" x2="364.4" y2="104.6" stroke="#0a0a0a" stroke-width="3.2"/>
<line x1="347.2" y1="112.5" x2="368.7" y2="112.5" stroke="#0a0a0a" stroke-width="4.5" stroke-dasharray="0.01 3.047"/>
<line x1="347.2" y1="112.5" x2="368.6" y2="112.5" stroke="#0a0a0a" stroke-width="3.2"/>
<line x1="355.0" y1="120.3" x2="389.2" y2="120.3" stroke="#0a0a0a" stroke-width="4.5" stroke-dasharray="0.01 3.09"/>
<line x1="355.0" y1="120.3" x2="389.1" y2="120.3" stroke="#0a0a0a" stroke-width="3.2"/>
<line x1="370.8" y1="129" x2="395.7" y2="129" stroke="#0a0a0a" stroke-width="4.5" stroke-dasharray="0.01 3.09"/>
<line x1="370.8" y1="129" x2="395.6" y2="129" stroke="#0a0a0a" stroke-width="3.2"/>
<line x1="379.0" y1="136.5" x2="408.1" y2="136.5" stroke="#0a0a0a" stroke-width="4.5" stroke-dasharray="0.01 3.212"/>
<line x1="379.0" y1="136.5" x2="408.0" y2="136.5" stroke="#0a0a0a" stroke-width="3.2"/>
<line x1="391.2" y1="144.7" x2="416.4" y2="144.7" stroke="#0a0a0a" stroke-width="4.5" stroke-dasharray="0.01 3.128"/>
<line x1="391.2" y1="144.7" x2="416.3" y2="144.7" stroke="#0a0a0a" stroke-width="3.2"/>
<line x1="403.0" y1="152.6" x2="414.9" y2="152.6" stroke="#0a0a0a" stroke-width="4.5" stroke-dasharray="0.01 2.94"/>
<line x1="403.0" y1="152.6" x2="414.8" y2="152.6" stroke="#0a0a0a" stroke-width="3.2"/>
<line x1="462.7" y1="192.6" x2="476.9" y2="192.6" stroke="#1a1a1a" stroke-width="4.5" stroke-dasharray="0.01 2.81"/>
<line x1="462.7" y1="192.6" x2="476.8" y2="192.6" stroke="#1a1a1a" stroke-width="3.2"/>
<line x1="459.7" y1="200.6" x2="484.9" y2="200.6" stroke="#333" stroke-width="4.5" stroke-dasharray="0.01 3.128"/>
<line x1="459.7" y1="200.6" x2="484.8" y2="200.6" stroke="#333" stroke-width="3.2"/>
<line x1="472.4" y1="208.8" x2="486.9" y2="208.8" stroke="#3a3a3a" stroke-width="4.5" stroke-dasharray="0.01 2.87"/>
<line x1="472.4" y1="208.8" x2="486.8" y2="208.8" stroke="#3a3a3a" stroke-width="3.2"/>
<line x1="479.7" y1="216" x2="489.9" y2="216" stroke="#3a3a3a" stroke-width="4.5" stroke-dasharray="0.01 3.357"/>
<line x1="479.7" y1="216" x2="489.8" y2="216" stroke="#3a3a3a" stroke-width="3.2"/>
<line x1="491.2" y1="224.3" x2="513.2" y2="224.3" stroke="#6e6e6e" stroke-width="4.5" stroke-dasharray="0.01 3.133"/>
<line x1="491.2" y1="224.3" x2="513.2" y2="224.3" stroke="#6e6e6e" stroke-width="3.2"/>
<line x1="500.5" y1="232" x2="522.1" y2="232" stroke="#727272" stroke-width="4.5" stroke-dasharray="0.01 3.076"/>
<line x1="500.5" y1="232" x2="522.1" y2="232" stroke="#727272" stroke-width="3.2"/>
<line x1="508.8" y1="240" x2="517.7" y2="240" stroke="#5e5e5e" stroke-width="4.5" stroke-dasharray="0.01 2.957"/>
<line x1="508.8" y1="240" x2="517.7" y2="240" stroke="#5e5e5e" stroke-width="3.2"/>
<line x1="520.6" y1="248" x2="541.3" y2="248" stroke="#999" stroke-width="4.5" stroke-dasharray="0.01 2.947"/>
<line x1="520.6" y1="248" x2="541.3" y2="248" stroke="#999" stroke-width="3.2"/>
<line x1="528.0" y1="256.2" x2="554.6" y2="256.2" stroke="#999" stroke-width="4.5" stroke-dasharray="0.01 2.946"/>
<line x1="528.0" y1="256.2" x2="554.6" y2="256.2" stroke="#999" stroke-width="3.2"/>
<line x1="540.4" y1="264" x2="555.2" y2="264" stroke="#969696" stroke-width="4.5" stroke-dasharray="0.01 2.95"/>
<line x1="540.4" y1="264" x2="555.2" y2="264" stroke="#969696" stroke-width="3.2"/>
<line x1="554.2" y1="273" x2="574.8" y2="273" stroke="#bcbcbc" stroke-width="4.5" stroke-dasharray="0.01 2.933"/>
<line x1="554.2" y1="273" x2="574.8" y2="273" stroke="#bcbcbc" stroke-width="3.2"/>
<line x1="559.6" y1="280.4" x2="581.1" y2="280.4" stroke="#bebebe" stroke-width="4.5" stroke-dasharray="0.01 3.061"/>
<line x1="559.6" y1="280.4" x2="581.1" y2="280.4" stroke="#bebebe" stroke-width="3.2"/>
<line x1="567.8" y1="288.4" x2="595.8" y2="288.4" stroke="#c0c0c0" stroke-width="4.5" stroke-dasharray="0.01 3.101"/>
<line x1="567.8" y1="288.4" x2="595.8" y2="288.4" stroke="#c0c0c0" stroke-width="3.2"/>
<line x1="582.6" y1="296.6" x2="606.2" y2="296.6" stroke="#c0c0c0" stroke-width="4.5" stroke-dasharray="0.01 2.94"/>
<line x1="582.6" y1="296.6" x2="606.2" y2="296.6" stroke="#c0c0c0" stroke-width="3.2"/>
<line x1="588.5" y1="304" x2="615.1" y2="304" stroke="#c2c2c2" stroke-width="4.5" stroke-dasharray="0.01 2.946"/>
<line x1="588.5" y1="304" x2="615.1" y2="304" stroke="#c2c2c2" stroke-width="3.2"/>
<line x1="597.2" y1="312" x2="622.8" y2="312" stroke="#c2c2c2" stroke-width="4.5" stroke-dasharray="0.01 3.19"/>
<line x1="597.2" y1="312" x2="622.8" y2="312" stroke="#c2c2c2" stroke-width="3.2"/>
<line x1="609.2" y1="320" x2="635.8" y2="320" stroke="#c2c2c2" stroke-width="4.5" stroke-dasharray="0.01 2.946"/>
<line x1="609.2" y1="320" x2="635.8" y2="320" stroke="#c2c2c2" stroke-width="3.2"/>
<line x1="618.0" y1="327.6" x2="637.2" y2="327.6" stroke="#c0c0c0" stroke-width="4.5" stroke-dasharray="0.01 3.19"/>
<line x1="618.0" y1="327.6" x2="637.2" y2="327.6" stroke="#c0c0c0" stroke-width="3.2"/>
<line x1="629.8" y1="335" x2="638.8" y2="335" stroke="#bcbcbc" stroke-width="4.5" stroke-dasharray="0.01 2.99"/>
<line x1="629.8" y1="335" x2="638.8" y2="335" stroke="#bcbcbc" stroke-width="3.2"/>
<line x1="636.2" y1="342.4" x2="642.8" y2="342.4" stroke="#bcbcbc" stroke-width="4.5" stroke-dasharray="0.01 3.29"/>
<line x1="636.2" y1="342.4" x2="642.8" y2="342.4" stroke="#bcbcbc" stroke-width="3.2"/>
<line x1="487" y1="208.8" x2="493" y2="208.8" stroke="#8a8a8a" stroke-width="4.2"/>
<line x1="480" y1="200.6" x2="485" y2="200.6" stroke="#777" stroke-width="4.2"/>
<circle cx="549" cy="272" r="2.2" fill="#999"/>
</g>
<rect x="283.8" y="58.6" width="90.6" height="52.8" fill="none" stroke="#1a1a1a" stroke-width="1.45"/>
<rect x="310.6" y="85" width="98.1" height="53" fill="none" stroke="#1a1a1a" stroke-width="1.45"/>
<rect x="333" y="111.4" width="98.8" height="53.3" fill="none" stroke="#1a1a1a" stroke-width="1.45"/>
<rect x="435.3" y="183.1" width="97.8" height="57.4" fill="none" stroke="#1a1a1a" stroke-width="1.45"/>
<rect x="473.1" y="214" width="97.5" height="56" fill="none" stroke="#1a1a1a" stroke-width="1.45"/>
<rect x="499.8" y="240.5" width="97.4" height="56.7" fill="none" stroke="#1a1a1a" stroke-width="1.45"/>
<rect x="541.1" y="270" width="97.7" height="57" fill="none" stroke="#1a1a1a" stroke-width="1.45"/>
<rect x="555.9" y="293.1" width="99.2" height="57.3" fill="none" stroke="#1a1a1a" stroke-width="1.45"/>
<text x="375.7" y="57.7" font-family='"Liberation Sans", sans-serif' font-size="12" textLength="12.8" lengthAdjust="spacingAndGlyphs" fill="#1a1a1a" filter="url(#b05)">#1</text>
<text x="409.6" y="83.7" font-family='"Liberation Sans", sans-serif' font-size="12" textLength="12.8" lengthAdjust="spacingAndGlyphs" fill="#1a1a1a" filter="url(#b05)">#2</text>
<text x="436.2" y="110.3" font-family='"Liberation Sans", sans-serif' font-size="12" textLength="12.8" lengthAdjust="spacingAndGlyphs" fill="#1a1a1a" filter="url(#b05)">#3</text>
<text x="534.1" y="182.3" font-family='"Liberation Sans", sans-serif' font-size="12" textLength="12.8" lengthAdjust="spacingAndGlyphs" fill="#1a1a1a" filter="url(#b05)">#4</text>
<text x="571.5" y="212.8" font-family='"Liberation Sans", sans-serif' font-size="12" textLength="12.8" lengthAdjust="spacingAndGlyphs" fill="#1a1a1a" filter="url(#b05)">#5</text>
<text x="598.1" y="238.5" font-family='"Liberation Sans", sans-serif' font-size="12" textLength="12.8" lengthAdjust="spacingAndGlyphs" fill="#1a1a1a" filter="url(#b05)">#6</text>
<text x="639.4" y="269" font-family='"Liberation Sans", sans-serif' font-size="12" textLength="12.8" lengthAdjust="spacingAndGlyphs" fill="#1a1a1a" filter="url(#b05)">#7</text>
<text x="659.2" y="292.4" font-family='"Liberation Sans", sans-serif' font-size="12" textLength="12.8" lengthAdjust="spacingAndGlyphs" fill="#1a1a1a" filter="url(#b05)">#8</text>
<path transform="translate(329.1,68.9) rotate(-6)" d="M-6.4,-6.2 L0,-2.1 L6.4,-6.2 L2.1,0 L6.4,6.2 L0,2.1 L-6.4,6.2 L-2.1,0 Z" fill="#fff" stroke="#111" stroke-width="0.9"/>
<path transform="translate(336.3,74.7) rotate(4)" d="M-6.4,-6.2 L0,-2.1 L6.4,-6.2 L2.1,0 L6.4,6.2 L0,2.1 L-6.4,6.2 L-2.1,0 Z" fill="#fff" stroke="#111" stroke-width="0.9"/>
<path transform="translate(341.8,80.6) rotate(-3)" d="M-6.4,-6.2 L0,-2.1 L6.4,-6.2 L2.1,0 L6.4,6.2 L0,2.1 L-6.4,6.2 L-2.1,0 Z" fill="#fff" stroke="#111" stroke-width="0.9"/>
<path transform="translate(354,94.5) rotate(5)" d="M-6.4,-6.2 L0,-2.1 L6.4,-6.2 L2.1,0 L6.4,6.2 L0,2.1 L-6.4,6.2 L-2.1,0 Z" fill="#fff" stroke="#111" stroke-width="0.9"/>
<path transform="translate(371.9,112.3) rotate(-5)" d="M-6.4,-6.2 L0,-2.1 L6.4,-6.2 L2.1,0 L6.4,6.2 L0,2.1 L-6.4,6.2 L-2.1,0 Z" fill="#fff" stroke="#111" stroke-width="0.9"/>
<path transform="translate(390.5,131.1) rotate(3)" d="M-6.4,-6.2 L0,-2.1 L6.4,-6.2 L2.1,0 L6.4,6.2 L0,2.1 L-6.4,6.2 L-2.1,0 Z" fill="#fff" stroke="#111" stroke-width="0.9"/>
<path transform="translate(414.6,155) rotate(-4)" d="M-6.4,-6.2 L0,-2.1 L6.4,-6.2 L2.1,0 L6.4,6.2 L0,2.1 L-6.4,6.2 L-2.1,0 Z" fill="#fff" stroke="#111" stroke-width="0.9"/>
<path transform="translate(425.9,158) rotate(6)" d="M-6.4,-6.2 L0,-2.1 L6.4,-6.2 L2.1,0 L6.4,6.2 L0,2.1 L-6.4,6.2 L-2.1,0 Z" fill="#fff" stroke="#111" stroke-width="0.9"/>
<path transform="translate(431.8,163.3) rotate(-6)" d="M-6.4,-6.2 L0,-2.1 L6.4,-6.2 L2.1,0 L6.4,6.2 L0,2.1 L-6.4,6.2 L-2.1,0 Z" fill="#fff" stroke="#111" stroke-width="0.9"/>
<path transform="translate(437.7,169.8) rotate(4)" d="M-6.4,-6.2 L0,-2.1 L6.4,-6.2 L2.1,0 L6.4,6.2 L0,2.1 L-6.4,6.2 L-2.1,0 Z" fill="#fff" stroke="#111" stroke-width="0.9"/>
<path transform="translate(443.6,176.3) rotate(-3)" d="M-6.4,-6.2 L0,-2.1 L6.4,-6.2 L2.1,0 L6.4,6.2 L0,2.1 L-6.4,6.2 L-2.1,0 Z" fill="#fff" stroke="#111" stroke-width="0.9"/>
<path transform="translate(450,183) rotate(5)" d="M-6.4,-6.2 L0,-2.1 L6.4,-6.2 L2.1,0 L6.4,6.2 L0,2.1 L-6.4,6.2 L-2.1,0 Z" fill="#fff" stroke="#111" stroke-width="0.9"/>
<path transform="translate(459.8,188.1) rotate(-5)" d="M-6.4,-6.2 L0,-2.1 L6.4,-6.2 L2.1,0 L6.4,6.2 L0,2.1 L-6.4,6.2 L-2.1,0 Z" fill="#fff" stroke="#111" stroke-width="0.9"/>
<path transform="translate(507.5,217.5) rotate(3)" d="M-6.4,-6.2 L0,-2.1 L6.4,-6.2 L2.1,0 L6.4,6.2 L0,2.1 L-6.4,6.2 L-2.1,0 Z" fill="#fff" stroke="#111" stroke-width="0.9"/>
<path transform="translate(543,250.5) rotate(-4)" d="M-6.4,-6.2 L0,-2.1 L6.4,-6.2 L2.1,0 L6.4,6.2 L0,2.1 L-6.4,6.2 L-2.1,0 Z" fill="#fff" stroke="#111" stroke-width="0.9"/>
<path transform="translate(593.7,291.6) rotate(6)" d="M-6.4,-6.2 L0,-2.1 L6.4,-6.2 L2.1,0 L6.4,6.2 L0,2.1 L-6.4,6.2 L-2.1,0 Z" fill="#fff" stroke="#111" stroke-width="0.9"/>
<path transform="translate(648.9,340.3) rotate(-6)" d="M-6.4,-6.2 L0,-2.1 L6.4,-6.2 L2.1,0 L6.4,6.2 L0,2.1 L-6.4,6.2 L-2.1,0 Z" fill="#fff" stroke="#111" stroke-width="0.9"/>
</g>
<text x="204.8" y="411.2" font-family='"Liberation Sans", sans-serif' font-size="11" textLength="32" lengthAdjust="spacingAndGlyphs" font-weight="bold" fill="#1a1a1a" filter="url(#bt)">26.4°E</text>
<text x="325.9" y="411.2" font-family='"Liberation Sans", sans-serif' font-size="11" textLength="37.5" lengthAdjust="spacingAndGlyphs" font-weight="bold" fill="#1a1a1a" filter="url(#bt)">26.48°E</text>
<text x="453.2" y="411.2" font-family='"Liberation Sans", sans-serif' font-size="11" textLength="38.5" lengthAdjust="spacingAndGlyphs" font-weight="bold" fill="#1a1a1a" filter="url(#bt)">26.56°E</text>
<text x="586.8" y="411.2" font-family='"Liberation Sans", sans-serif' font-size="11" textLength="37.8" lengthAdjust="spacingAndGlyphs" font-weight="bold" fill="#1a1a1a" filter="url(#bt)">26.64°E</text>
<text x="702.7" y="407.5" font-family='"Liberation Sans", sans-serif' font-size="10" textLength="37.8" lengthAdjust="spacingAndGlyphs" fill="#666" filter="url(#bt)">26.72°E</text>
<text x="455" y="431.6" font-family='"Liberation Sans", sans-serif' font-size="10" textLength="49" lengthAdjust="spacingAndGlyphs" font-weight="bold" fill="#1a1a1a" filter="url(#bt)">Latitude[°]</text>
<text x="211.8" y="15.8" font-family='"Liberation Sans", sans-serif' font-size="11" text-anchor="end" textLength="38" lengthAdjust="spacingAndGlyphs" fill="#333" filter="url(#bt)">60.42°N</text>
<text x="211.8" y="111.3" font-family='"Liberation Sans", sans-serif' font-size="10" text-anchor="end" textLength="37.8" lengthAdjust="spacingAndGlyphs" fill="#444" filter="url(#bt)">60.39°N</text>
<text x="211.8" y="203.6" font-family='"Liberation Sans", sans-serif' font-size="10" text-anchor="end" textLength="37.6" lengthAdjust="spacingAndGlyphs" fill="#444" filter="url(#bt)">60.36°N</text>
<text x="211.8" y="303.3" font-family='"Liberation Sans", sans-serif' font-size="10" text-anchor="end" textLength="37.8" lengthAdjust="spacingAndGlyphs" fill="#444" filter="url(#bt)">60.33°N</text>
<text x="211.8" y="395.8" font-family='"Liberation Sans", sans-serif' font-size="10" text-anchor="end" textLength="32" lengthAdjust="spacingAndGlyphs" fill="#444" filter="url(#bt)">60.3°N</text>
<text transform="translate(163,191) rotate(-90)" text-anchor="middle" font-family='"Liberation Sans", sans-serif' font-size="10" fill="#3a3a3a" textLength="56" lengthAdjust="spacingAndGlyphs" filter="url(#bt)">Longitude[°]</text>
<rect x="772.5" y="8" width="38.5" height="383.5" fill="url(#cb)" stroke="#777" stroke-width="1"/>
<text x="814.5" y="396.6" font-family='"Liberation Sans", sans-serif' font-size="11" textLength="5.8" lengthAdjust="spacingAndGlyphs" fill="#222" filter="url(#b05)">0</text>
<line x1="773" y1="353.15" x2="776.5" y2="353.15" stroke="#333" stroke-width="1"/>
<line x1="807" y1="353.15" x2="810.5" y2="353.15" stroke="#333" stroke-width="1"/>
<text x="814.5" y="358.2" font-family='"Liberation Sans", sans-serif' font-size="11" textLength="14.7" lengthAdjust="spacingAndGlyphs" fill="#222" filter="url(#b05)">0.5</text>
<line x1="773" y1="314.8" x2="776.5" y2="314.8" stroke="#333" stroke-width="1"/>
<line x1="807" y1="314.8" x2="810.5" y2="314.8" stroke="#333" stroke-width="1"/>
<text x="814.5" y="319.9" font-family='"Liberation Sans", sans-serif' font-size="11" textLength="5.8" lengthAdjust="spacingAndGlyphs" fill="#222" filter="url(#b05)">1</text>
<line x1="773" y1="276.45" x2="776.5" y2="276.45" stroke="#333" stroke-width="1"/>
<line x1="807" y1="276.45" x2="810.5" y2="276.45" stroke="#333" stroke-width="1"/>
<text x="814.5" y="281.6" font-family='"Liberation Sans", sans-serif' font-size="11" textLength="14.7" lengthAdjust="spacingAndGlyphs" fill="#222" filter="url(#b05)">1.5</text>
<line x1="773" y1="238.1" x2="776.5" y2="238.1" stroke="#333" stroke-width="1"/>
<line x1="807" y1="238.1" x2="810.5" y2="238.1" stroke="#333" stroke-width="1"/>
<text x="814.5" y="243.2" font-family='"Liberation Sans", sans-serif' font-size="11" textLength="5.8" lengthAdjust="spacingAndGlyphs" fill="#222" filter="url(#b05)">2</text>
<line x1="773" y1="199.75" x2="776.5" y2="199.75" stroke="#333" stroke-width="1"/>
<line x1="807" y1="199.75" x2="810.5" y2="199.75" stroke="#333" stroke-width="1"/>
<text x="814.5" y="204.8" font-family='"Liberation Sans", sans-serif' font-size="11" textLength="14.7" lengthAdjust="spacingAndGlyphs" fill="#222" filter="url(#b05)">2.5</text>
<line x1="773" y1="161.4" x2="776.5" y2="161.4" stroke="#333" stroke-width="1"/>
<line x1="807" y1="161.4" x2="810.5" y2="161.4" stroke="#333" stroke-width="1"/>
<text x="814.5" y="166.5" font-family='"Liberation Sans", sans-serif' font-size="11" textLength="5.8" lengthAdjust="spacingAndGlyphs" fill="#222" filter="url(#b05)">3</text>
<line x1="773" y1="123.05" x2="776.5" y2="123.05" stroke="#333" stroke-width="1"/>
<line x1="807" y1="123.05" x2="810.5" y2="123.05" stroke="#333" stroke-width="1"/>
<text x="814.5" y="128.2" font-family='"Liberation Sans", sans-serif' font-size="11" textLength="14.7" lengthAdjust="spacingAndGlyphs" fill="#222" filter="url(#b05)">3.5</text>
<line x1="773" y1="84.7" x2="776.5" y2="84.7" stroke="#333" stroke-width="1"/>
<line x1="807" y1="84.7" x2="810.5" y2="84.7" stroke="#333" stroke-width="1"/>
<text x="814.5" y="89.8" font-family='"Liberation Sans", sans-serif' font-size="11" textLength="5.8" lengthAdjust="spacingAndGlyphs" fill="#222" filter="url(#b05)">4</text>
<line x1="773" y1="46.35" x2="776.5" y2="46.35" stroke="#333" stroke-width="1"/>
<line x1="807" y1="46.35" x2="810.5" y2="46.35" stroke="#333" stroke-width="1"/>
<text x="814.5" y="51.5" font-family='"Liberation Sans", sans-serif' font-size="11" textLength="14.7" lengthAdjust="spacingAndGlyphs" fill="#222" filter="url(#b05)">4.5</text>
<text x="814.5" y="13.1" font-family='"Liberation Sans", sans-serif' font-size="11" textLength="5.8" lengthAdjust="spacingAndGlyphs" fill="#222" filter="url(#b05)">5</text>
</g>
<text x="472" y="475.5" font-family='"Liberation Serif", serif' font-size="32" fill="#111" textLength="37.5" lengthAdjust="spacingAndGlyphs" filter="url(#b05)">(<tspan font-weight="bold">a</tspan>)</text>
<text x="139.5" y="992" font-family='"Liberation Serif", serif' font-size="32" fill="#111" textLength="38" lengthAdjust="spacingAndGlyphs" filter="url(#b05)">(<tspan font-weight="bold">b</tspan>)</text>
<text x="804.5" y="992" font-family='"Liberation Serif", serif' font-size="32" fill="#111" textLength="37.5" lengthAdjust="spacingAndGlyphs" filter="url(#b05)">(<tspan font-weight="bold">c</tspan>)</text>
<g id="panel-b">
<g stroke="#cfcfcf" stroke-width="1" stroke-dasharray="1 2">
<line x1="35" y1="868.3" x2="451" y2="868.3"/>
<line x1="35" y1="832.0" x2="451" y2="832.0"/>
<line x1="35" y1="795.8" x2="451" y2="795.8"/>
<line x1="35" y1="759.5" x2="451" y2="759.5"/>
<line x1="35" y1="723.3" x2="451" y2="723.3"/>
<line x1="35" y1="687.1" x2="451" y2="687.1"/>
<line x1="35" y1="650.8" x2="451" y2="650.8"/>
<line x1="35" y1="614.6" x2="451" y2="614.6"/>
<line x1="35" y1="578.3" x2="451" y2="578.3"/>
<line x1="125.6" y1="542" x2="125.6" y2="904.5"/>
<line x1="216.2" y1="542" x2="216.2" y2="904.5"/>
<line x1="306.8" y1="542" x2="306.8" y2="904.5"/>
<line x1="397.4" y1="542" x2="397.4" y2="904.5"/>
</g>
<g clip-path="url(#bclip)" filter="url(#bc)">
<polyline points="40,902 100,901 128,902 135,902 141,890 146.5,871.3 152,895 159.1,860.2 165.4,895 171.7,860 178.8,891.7 181.5,898 185.7,895 233,866.5 235.5,822 240,880 246,904 254.8,799 259.5,874.8 264.7,806 269.7,870 274.2,788.6 279.6,801.6 284.3,857 288.5,840 293,838 298.5,805 303.7,843 308,831 312.7,844 322.6,798 328.7,815 334,832 337.5,833 343,794.5 347.4,786 352.1,817 357.6,775.6 362.3,749 367,762.6 377,794.5 382.4,813.4 386.6,815.8 391.4,876.7 401.3,768.5 406,828.7 415.5,754.3 420.9,822.8 425.6,844 430.8,762 435.5,837 441,778 446.2,813.4 450.9,827.6" fill="none" stroke="#4fe84f" stroke-width="1.4" stroke-dasharray="1.1 1" opacity="0.9"/>
<line x1="66" y1="667.7" x2="66" y2="903" stroke="#0a0aff" stroke-width="2"/><line x1="62.3" y1="667.7" x2="69.7" y2="667.7" stroke="#0a0aff" stroke-width="2"/><line x1="62.3" y1="903" x2="69.7" y2="903" stroke="#0a0aff" stroke-width="2"/>
<line x1="88.6" y1="697.3" x2="88.6" y2="903" stroke="#0a0aff" stroke-width="2"/><line x1="84.89999999999999" y1="697.3" x2="92.3" y2="697.3" stroke="#0a0aff" stroke-width="2"/><line x1="84.89999999999999" y1="903" x2="92.3" y2="903" stroke="#0a0aff" stroke-width="2"/>
<line x1="125.4" y1="560" x2="125.4" y2="884.2" stroke="#0a0aff" stroke-width="2"/><line x1="121.7" y1="884.2" x2="129.1" y2="884.2" stroke="#0a0aff" stroke-width="2"/>
<line x1="160.4" y1="560" x2="160.4" y2="904" stroke="#0a0aff" stroke-width="2"/>
<line x1="214.7" y1="560" x2="214.7" y2="904" stroke="#0a0aff" stroke-width="2"/>
<line x1="219.4" y1="560" x2="219.4" y2="904" stroke="#0a0aff" stroke-width="2"/>
<line x1="224.3" y1="560" x2="224.3" y2="904" stroke="#0a0aff" stroke-width="2"/>
<line x1="230.5" y1="560" x2="230.5" y2="904" stroke="#0a0aff" stroke-width="2"/>
<line x1="234.6" y1="543.3" x2="234.6" y2="884" stroke="#0a0aff" stroke-width="2"/><line x1="230.9" y1="543.3" x2="238.29999999999998" y2="543.3" stroke="#0a0aff" stroke-width="2"/><line x1="230.9" y1="884" x2="238.29999999999998" y2="884" stroke="#0a0aff" stroke-width="2"/>
<line x1="240.6" y1="560" x2="240.6" y2="886" stroke="#0a0aff" stroke-width="2"/><line x1="236.9" y1="886" x2="244.29999999999998" y2="886" stroke="#0a0aff" stroke-width="2"/>
<line x1="248.7" y1="560" x2="248.7" y2="887" stroke="#0a0aff" stroke-width="2"/><line x1="245.0" y1="887" x2="252.39999999999998" y2="887" stroke="#0a0aff" stroke-width="2"/>
<line x1="291.9" y1="678.8" x2="291.9" y2="725.4" stroke="#0a0aff" stroke-width="2"/><line x1="288.2" y1="678.8" x2="295.59999999999997" y2="678.8" stroke="#0a0aff" stroke-width="2"/><line x1="288.2" y1="725.4" x2="295.59999999999997" y2="725.4" stroke="#0a0aff" stroke-width="2"/>
<line x1="330.4" y1="670.6" x2="330.4" y2="684" stroke="#0a0aff" stroke-width="2"/><line x1="326.7" y1="670.6" x2="334.09999999999997" y2="670.6" stroke="#0a0aff" stroke-width="2"/><line x1="326.7" y1="684" x2="334.09999999999997" y2="684" stroke="#0a0aff" stroke-width="2"/>
<line x1="371.3" y1="601.6" x2="371.3" y2="696.1" stroke="#0a0aff" stroke-width="2"/><line x1="367.6" y1="601.6" x2="375.0" y2="601.6" stroke="#0a0aff" stroke-width="2"/><line x1="367.6" y1="696.1" x2="375.0" y2="696.1" stroke="#0a0aff" stroke-width="2"/>
<line x1="410.7" y1="592.6" x2="410.7" y2="708.4" stroke="#0a0aff" stroke-width="2"/><line x1="407.0" y1="592.6" x2="414.4" y2="592.6" stroke="#0a0aff" stroke-width="2"/><line x1="407.0" y1="708.4" x2="414.4" y2="708.4" stroke="#0a0aff" stroke-width="2"/>
<line x1="441.9" y1="624.5" x2="441.9" y2="689.5" stroke="#0a0aff" stroke-width="2"/><line x1="438.2" y1="624.5" x2="445.59999999999997" y2="624.5" stroke="#0a0aff" stroke-width="2"/><line x1="438.2" y1="689.5" x2="445.59999999999997" y2="689.5" stroke="#0a0aff" stroke-width="2"/>
<polyline points="35,904 40.2,904 44.2,782.8 49.4,796 54.4,756.6 59.1,833.5 64.3,790.6 68.6,827.2 74.1,847.6 83.5,848.4 88.6,826.7 93.5,827.5 98.5,790.6 103.2,828.3 113.5,762.9 118.2,835.8 123.2,686 126.4,754.7 132.4,760.7 137.1,825.6 142.3,829.5 147.3,785.4 152,830.6 156.5,742.5 161.5,781.5 167,766.5 171.7,742.5 181.5,898 232,778 235.2,712 246,905 254.8,703.6 259.8,815.4 274.2,656.4 279.6,672.9 288.1,825.6 297.8,669.4 303.2,673.6 308,664.7 312.7,685.2 322.6,665.8 328.7,678.8 332.3,664.2 334,683.6 337.5,780.3 343,658.7 347.4,659.5 352.1,676 357.6,673.4 362.3,637 367,639.1 371.3,645.8 377,670.6 382.4,678.8 386.6,683.6 391.4,713.1 401.3,652.1 406,684.7 415.5,626.4 420.9,677.6 425.6,686.4 430.8,649.8 435.5,693 441,657.6 446.2,680 450.9,772" fill="none" stroke="#0a0aff" stroke-width="2" stroke-linejoin="miter" stroke-miterlimit="3"/>
<polyline points="40,898.5 100,898 170,895.7 201.5,894.9 212.5,892.5 222,894.6 233,894 239.3,892.5 251.9,885.4 290.2,868.9 329.2,851.2 371.3,840.8 393,841.3 410.7,841 441.9,837.5" fill="none" stroke="#050505" stroke-width="2.6" stroke-linejoin="round"/>
<line x1="35" y1="898" x2="451" y2="898" stroke="#ff0a0a" stroke-width="2.6" stroke-dasharray="3.6 1.4 1.2 1.4"/>
<line x1="66" y1="896.8" x2="66" y2="902.4" stroke="#0cf00c" stroke-width="2"/><line x1="62.3" y1="896.8" x2="69.7" y2="896.8" stroke="#0cf00c" stroke-width="2"/><line x1="62.3" y1="902.4" x2="69.7" y2="902.4" stroke="#0cf00c" stroke-width="2"/>
<line x1="88.6" y1="896.8" x2="88.6" y2="902.4" stroke="#0cf00c" stroke-width="2"/><line x1="84.89999999999999" y1="896.8" x2="92.3" y2="896.8" stroke="#0cf00c" stroke-width="2"/><line x1="84.89999999999999" y1="902.4" x2="92.3" y2="902.4" stroke="#0cf00c" stroke-width="2"/>
<line x1="121.5" y1="897.7" x2="129" y2="897.7" stroke="#0cf00c" stroke-width="2"/>
<line x1="160.4" y1="813" x2="160.4" y2="904" stroke="#0cf00c" stroke-width="2"/><line x1="156.70000000000002" y1="813" x2="164.1" y2="813" stroke="#0cf00c" stroke-width="2"/>
<line x1="214.7" y1="829.8" x2="214.7" y2="904" stroke="#0cf00c" stroke-width="2"/>
<line x1="219.4" y1="829.8" x2="219.4" y2="904" stroke="#0cf00c" stroke-width="2"/>
<line x1="224.3" y1="829.8" x2="224.3" y2="904" stroke="#0cf00c" stroke-width="2"/>
<line x1="230.5" y1="829.8" x2="230.5" y2="904" stroke="#0cf00c" stroke-width="2"/>
<line x1="211.3" y1="829.8" x2="233.8" y2="829.8" stroke="#0cf00c" stroke-width="2"/>
<line x1="234.6" y1="739" x2="234.6" y2="891.7" stroke="#0cf00c" stroke-width="2"/><line x1="230.9" y1="739" x2="238.29999999999998" y2="739" stroke="#0cf00c" stroke-width="2"/>
<line x1="240.6" y1="775.3" x2="240.6" y2="904" stroke="#0cf00c" stroke-width="2"/><line x1="236.9" y1="775.3" x2="244.29999999999998" y2="775.3" stroke="#0cf00c" stroke-width="2"/>
<line x1="245.6" y1="815" x2="245.6" y2="904" stroke="#0cf00c" stroke-width="2"/><line x1="241.9" y1="815" x2="249.29999999999998" y2="815" stroke="#0cf00c" stroke-width="2"/>
<line x1="248.9" y1="819.3" x2="248.9" y2="904" stroke="#0cf00c" stroke-width="2"/><line x1="245.20000000000002" y1="819.3" x2="252.6" y2="819.3" stroke="#0cf00c" stroke-width="2"/>
<line x1="291.6" y1="810.3" x2="291.6" y2="904" stroke="#0cf00c" stroke-width="2"/><line x1="287.90000000000003" y1="810.3" x2="295.3" y2="810.3" stroke="#0cf00c" stroke-width="2"/>
<line x1="329" y1="830.7" x2="329" y2="860" stroke="#0cf00c" stroke-width="2"/><line x1="325.3" y1="830.7" x2="332.7" y2="830.7" stroke="#0cf00c" stroke-width="2"/><line x1="325.3" y1="860" x2="332.7" y2="860" stroke="#0cf00c" stroke-width="2"/>
<line x1="371.3" y1="683.1" x2="371.3" y2="851.2" stroke="#0cf00c" stroke-width="2"/><line x1="367.6" y1="683.1" x2="375.0" y2="683.1" stroke="#0cf00c" stroke-width="2"/><line x1="367.6" y1="851.2" x2="375.0" y2="851.2" stroke="#0cf00c" stroke-width="2"/>
<line x1="410.7" y1="727.9" x2="410.7" y2="844.1" stroke="#0cf00c" stroke-width="2"/><line x1="407.0" y1="727.9" x2="414.4" y2="727.9" stroke="#0cf00c" stroke-width="2"/><line x1="407.0" y1="844.1" x2="414.4" y2="844.1" stroke="#0cf00c" stroke-width="2"/>
<line x1="441.9" y1="722" x2="441.9" y2="837.7" stroke="#0cf00c" stroke-width="2"/><line x1="438.2" y1="722" x2="445.59999999999997" y2="722" stroke="#0cf00c" stroke-width="2"/><line x1="438.2" y1="837.7" x2="445.59999999999997" y2="837.7" stroke="#0cf00c" stroke-width="2"/>
</g>
<rect x="35" y="542" width="416" height="362.5" fill="none" stroke="#8c8c8c" stroke-width="1.3"/>
<g stroke="#666" stroke-width="1">
<line x1="35" y1="904.5" x2="39" y2="904.5"/><line x1="447" y1="904.5" x2="451" y2="904.5"/>
<line x1="35" y1="868.3" x2="39" y2="868.3"/><line x1="447" y1="868.3" x2="451" y2="868.3"/>
<line x1="35" y1="832.0" x2="39" y2="832.0"/><line x1="447" y1="832.0" x2="451" y2="832.0"/>
<line x1="35" y1="795.8" x2="39" y2="795.8"/><line x1="447" y1="795.8" x2="451" y2="795.8"/>
<line x1="35" y1="759.5" x2="39" y2="759.5"/><line x1="447" y1="759.5" x2="451" y2="759.5"/>
<line x1="35" y1="723.3" x2="39" y2="723.3"/><line x1="447" y1="723.3" x2="451" y2="723.3"/>
<line x1="35" y1="687.1" x2="39" y2="687.1"/><line x1="447" y1="687.1" x2="451" y2="687.1"/>
<line x1="35" y1="650.8" x2="39" y2="650.8"/><line x1="447" y1="650.8" x2="451" y2="650.8"/>
<line x1="35" y1="614.6" x2="39" y2="614.6"/><line x1="447" y1="614.6" x2="451" y2="614.6"/>
<line x1="35" y1="578.3" x2="39" y2="578.3"/><line x1="447" y1="578.3" x2="451" y2="578.3"/>
<line x1="35" y1="542.1" x2="39" y2="542.1"/><line x1="447" y1="542.1" x2="451" y2="542.1"/>
<line x1="35.0" y1="904.5" x2="35.0" y2="900.5"/><line x1="35.0" y1="542" x2="35.0" y2="546"/>
<line x1="125.6" y1="904.5" x2="125.6" y2="900.5"/><line x1="125.6" y1="542" x2="125.6" y2="546"/>
<line x1="216.2" y1="904.5" x2="216.2" y2="900.5"/><line x1="216.2" y1="542" x2="216.2" y2="546"/>
<line x1="306.8" y1="904.5" x2="306.8" y2="900.5"/><line x1="306.8" y1="542" x2="306.8" y2="546"/>
<line x1="397.4" y1="904.5" x2="397.4" y2="900.5"/><line x1="397.4" y1="542" x2="397.4" y2="546"/>
</g>
<rect x="43.5" y="550" width="247.3" height="101" fill="#fff" stroke="#777" stroke-width="1.2"/>
<g filter="url(#bc)">
<line x1="49.5" y1="565" x2="77.5" y2="565" stroke="#050505" stroke-width="2.4"/>
<line x1="49.5" y1="587.3" x2="77.5" y2="587.3" stroke="#ff0a0a" stroke-width="1.8" stroke-dasharray="3.6 1.4"/>
<line x1="49.5" y1="610.5" x2="77.5" y2="610.5" stroke="#0a0aff" stroke-width="2"/><circle cx="63.5" cy="610.8" r="1.4" fill="#0a0aff"/>
<line x1="49.5" y1="634" x2="77.5" y2="634" stroke="#5de85d" stroke-width="1.2" stroke-dasharray="1 1.1" opacity="0.85"/>
</g>
<text x="80.5" y="570.3" font-family='"Liberation Sans", sans-serif' font-size="15" textLength="41" lengthAdjust="spacingAndGlyphs" fill="#3a3a3a" filter="url(#bt)">Vessel</text>
<text x="80.5" y="592.8" font-family='"Liberation Sans", sans-serif' font-size="15" textLength="206" lengthAdjust="spacingAndGlyphs" fill="#3a3a3a" filter="url(#bt)">Retrieved (NO BIAS CORRECTION)</text>
<text x="80.5" y="616.3" font-family='"Liberation Sans", sans-serif' font-size="15" textLength="172" lengthAdjust="spacingAndGlyphs" fill="#3a3a3a" filter="url(#bt)">Retrieved (CONSTANT BIAS)</text>
<text x="80.5" y="636.5" font-family='"Liberation Sans", sans-serif' font-size="15" textLength="101" lengthAdjust="spacingAndGlyphs" fill="#3a3a3a" filter="url(#bt)">Retrieved (EXT. T</text>
<text x="183" y="643.5" font-family='"Liberation Sans", sans-serif' font-size="12" textLength="7.2" lengthAdjust="spacingAndGlyphs" fill="#3a3a3a" filter="url(#bt)">B</text>
<text x="193.6" y="636.5" font-family='"Liberation Sans", sans-serif' font-size="15" textLength="92.4" lengthAdjust="spacingAndGlyphs" fill="#3a3a3a" filter="url(#bt)">CALIBRATION)</text>
<text x="102.5" y="507.7" font-family='"Liberation Sans", sans-serif' font-size="15" textLength="279.5" lengthAdjust="spacingAndGlyphs" fill="#3a3a3a" filter="url(#bt)">Flight SD2 SSS retrieval using Eqn. (3) (Stokes I)</text>
<text x="203.7" y="528.7" font-family='"Liberation Sans", sans-serif' font-size="15" textLength="71" lengthAdjust="spacingAndGlyphs" fill="#3a3a3a" filter="url(#bt)">Bin-Width 2°</text>
<text x="32" y="910.1" font-family='"Liberation Sans", sans-serif' font-size="14" text-anchor="end" textLength="7" lengthAdjust="spacingAndGlyphs" fill="#3a3a3a" filter="url(#bt)">0</text>
<text x="32" y="873.9" font-family='"Liberation Sans", sans-serif' font-size="14" text-anchor="end" textLength="7" lengthAdjust="spacingAndGlyphs" fill="#3a3a3a" filter="url(#bt)">2</text>
<text x="32" y="837.6" font-family='"Liberation Sans", sans-serif' font-size="14" text-anchor="end" textLength="7" lengthAdjust="spacingAndGlyphs" fill="#3a3a3a" filter="url(#bt)">4</text>
<text x="32" y="801.4" font-family='"Liberation Sans", sans-serif' font-size="14" text-anchor="end" textLength="7" lengthAdjust="spacingAndGlyphs" fill="#3a3a3a" filter="url(#bt)">6</text>
<text x="32" y="765.1" font-family='"Liberation Sans", sans-serif' font-size="14" text-anchor="end" textLength="7" lengthAdjust="spacingAndGlyphs" fill="#3a3a3a" filter="url(#bt)">8</text>
<text x="32" y="728.9" font-family='"Liberation Sans", sans-serif' font-size="14" text-anchor="end" textLength="13.8" lengthAdjust="spacingAndGlyphs" fill="#3a3a3a" filter="url(#bt)">10</text>
<text x="32" y="692.7" font-family='"Liberation Sans", sans-serif' font-size="14" text-anchor="end" textLength="13.8" lengthAdjust="spacingAndGlyphs" fill="#3a3a3a" filter="url(#bt)">12</text>
<text x="32" y="656.4" font-family='"Liberation Sans", sans-serif' font-size="14" text-anchor="end" textLength="13.8" lengthAdjust="spacingAndGlyphs" fill="#3a3a3a" filter="url(#bt)">14</text>
<text x="32" y="620.2" font-family='"Liberation Sans", sans-serif' font-size="14" text-anchor="end" textLength="13.8" lengthAdjust="spacingAndGlyphs" fill="#3a3a3a" filter="url(#bt)">16</text>
<text x="32" y="583.9" font-family='"Liberation Sans", sans-serif' font-size="14" text-anchor="end" textLength="13.8" lengthAdjust="spacingAndGlyphs" fill="#3a3a3a" filter="url(#bt)">18</text>
<text x="32" y="547.7" font-family='"Liberation Sans", sans-serif' font-size="14" text-anchor="end" textLength="13.8" lengthAdjust="spacingAndGlyphs" fill="#3a3a3a" filter="url(#bt)">20</text>
<text x="19.8" y="925.6" font-family='"Liberation Sans", sans-serif' font-size="14" textLength="31" lengthAdjust="spacingAndGlyphs" fill="#3a3a3a" filter="url(#bt)">26.45</text>
<text x="114.2" y="925.6" font-family='"Liberation Sans", sans-serif' font-size="14" textLength="23.4" lengthAdjust="spacingAndGlyphs" fill="#3a3a3a" filter="url(#bt)">26.5</text>
<text x="201.0" y="925.6" font-family='"Liberation Sans", sans-serif' font-size="14" textLength="31" lengthAdjust="spacingAndGlyphs" fill="#3a3a3a" filter="url(#bt)">26.55</text>
<text x="295.4" y="925.6" font-family='"Liberation Sans", sans-serif' font-size="14" textLength="23.4" lengthAdjust="spacingAndGlyphs" fill="#3a3a3a" filter="url(#bt)">26.6</text>
<text x="382.2" y="925.6" font-family='"Liberation Sans", sans-serif' font-size="14" textLength="31" lengthAdjust="spacingAndGlyphs" fill="#3a3a3a" filter="url(#bt)">26.65</text>
<text x="170" y="944" font-family='"Liberation Sans", sans-serif' font-size="15" textLength="144.6" lengthAdjust="spacingAndGlyphs" fill="#3a3a3a" filter="url(#bt)">Flight-Track Longitude [°]</text>
<text transform="translate(11.2,723) rotate(-90)" text-anchor="middle" font-family='"Liberation Sans", sans-serif' font-size="14" fill="#262626" textLength="132.6" lengthAdjust="spacingAndGlyphs" filter="url(#bt)">Sea Surface Salinity</text>
</g>
<g id="panel-c">
<g stroke="#c4c4c4" stroke-width="1" stroke-dasharray="1 1.6">
<line x1="540" y1="874.8" x2="1002.7" y2="874.8"/>
<line x1="540" y1="836.3" x2="1002.7" y2="836.3"/>
<line x1="540" y1="797.9" x2="1002.7" y2="797.9"/>
<line x1="540" y1="759.4" x2="1002.7" y2="759.4"/>
<line x1="540" y1="720.9" x2="1002.7" y2="720.9"/>
<line x1="540" y1="682.4" x2="1002.7" y2="682.4"/>
<line x1="540" y1="643.9" x2="1002.7" y2="643.9"/>
<line x1="540" y1="605.5" x2="1002.7" y2="605.5"/>
<line x1="632.5" y1="567" x2="632.5" y2="913.3"/>
<line x1="725.0" y1="567" x2="725.0" y2="913.3"/>
<line x1="817.5" y1="567" x2="817.5" y2="913.3"/>
<line x1="910.0" y1="567" x2="910.0" y2="913.3"/>
</g>
<rect x="540" y="567" width="462.70000000000005" height="346.29999999999995" fill="none" stroke="#8c8c8c" stroke-width="1.3"/>
<g stroke="#777" stroke-width="1">
<line x1="540" y1="913.3" x2="545" y2="913.3"/><line x1="997.7" y1="913.3" x2="1002.7" y2="913.3"/>
<line x1="540" y1="874.8" x2="545" y2="874.8"/><line x1="997.7" y1="874.8" x2="1002.7" y2="874.8"/>
<line x1="540" y1="836.3" x2="545" y2="836.3"/><line x1="997.7" y1="836.3" x2="1002.7" y2="836.3"/>
<line x1="540" y1="797.9" x2="545" y2="797.9"/><line x1="997.7" y1="797.9" x2="1002.7" y2="797.9"/>
<line x1="540" y1="759.4" x2="545" y2="759.4"/><line x1="997.7" y1="759.4" x2="1002.7" y2="759.4"/>
<line x1="540" y1="720.9" x2="545" y2="720.9"/><line x1="997.7" y1="720.9" x2="1002.7" y2="720.9"/>
<line x1="540" y1="682.4" x2="545" y2="682.4"/><line x1="997.7" y1="682.4" x2="1002.7" y2="682.4"/>
<line x1="540" y1="643.9" x2="545" y2="643.9"/><line x1="997.7" y1="643.9" x2="1002.7" y2="643.9"/>
<line x1="540" y1="605.5" x2="545" y2="605.5"/><line x1="997.7" y1="605.5" x2="1002.7" y2="605.5"/>
<line x1="540" y1="567.0" x2="545" y2="567.0"/><line x1="997.7" y1="567.0" x2="1002.7" y2="567.0"/>
<line x1="540.0" y1="913.3" x2="540.0" y2="908.3"/><line x1="540.0" y1="567" x2="540.0" y2="572"/>
<line x1="632.5" y1="913.3" x2="632.5" y2="908.3"/><line x1="632.5" y1="567" x2="632.5" y2="572"/>
<line x1="725.0" y1="913.3" x2="725.0" y2="908.3"/><line x1="725.0" y1="567" x2="725.0" y2="572"/>
<line x1="817.5" y1="913.3" x2="817.5" y2="908.3"/><line x1="817.5" y1="567" x2="817.5" y2="572"/>
<line x1="910.0" y1="913.3" x2="910.0" y2="908.3"/><line x1="910.0" y1="567" x2="910.0" y2="572"/>
<line x1="1002.5" y1="913.3" x2="1002.5" y2="908.3"/><line x1="1002.5" y1="567" x2="1002.5" y2="572"/>
</g>
<g filter="url(#bc)">
<circle cx="571.3" cy="900" r="2.6" fill="#f6f6f6" stroke="#777" stroke-width="0.9"/>
<circle cx="593.8" cy="898.8" r="2.6" fill="#f6f6f6" stroke="#777" stroke-width="0.9"/>
<circle cx="632.5" cy="898.8" r="2.6" fill="#f6f6f6" stroke="#777" stroke-width="0.9"/>
<circle cx="667.5" cy="897" r="2.6" fill="#f6f6f6" stroke="#777" stroke-width="0.9"/>
<circle cx="711.3" cy="895.8" r="2.6" fill="#f6f6f6" stroke="#777" stroke-width="0.9"/>
<circle cx="722.5" cy="889.3" r="2.6" fill="#f6f6f6" stroke="#777" stroke-width="0.9"/>
<circle cx="727.5" cy="894.3" r="2.6" fill="#f6f6f6" stroke="#777" stroke-width="0.9"/>
<circle cx="733" cy="895.8" r="2.6" fill="#f6f6f6" stroke="#777" stroke-width="0.9"/>
<circle cx="742.5" cy="890.8" r="2.6" fill="#f6f6f6" stroke="#777" stroke-width="0.9"/>
<circle cx="750" cy="888.8" r="2.6" fill="#f6f6f6" stroke="#777" stroke-width="0.9"/>
<circle cx="756.3" cy="883.5" r="2.6" fill="#f6f6f6" stroke="#777" stroke-width="0.9"/>
<circle cx="802" cy="838" r="2.6" fill="#f6f6f6" stroke="#777" stroke-width="0.9"/>
<circle cx="841" cy="801.9" r="2.6" fill="#f6f6f6" stroke="#777" stroke-width="0.9"/>
<circle cx="884.5" cy="779.3" r="2.6" fill="#f6f6f6" stroke="#777" stroke-width="0.9"/>
<circle cx="924.6" cy="780.1" r="2.6" fill="#f6f6f6" stroke="#777" stroke-width="0.9"/>
<circle cx="956.3" cy="772.9" r="2.6" fill="#f6f6f6" stroke="#777" stroke-width="0.9"/>
<polyline points="571.3,900 593.8,898.8 632.5,898.8 667.5,897 711.3,895.8 722.5,889.3 727.5,894.3 733,895.8 742.5,890.8 750,888.8 756.3,883.5 802,838 841,801.9 884.5,779.3 924.6,780.1 956.3,772.9" fill="none" stroke="#0a0a0a" stroke-width="1.9" stroke-dasharray="4.4 2"/>
<line x1="588.8" y1="898.8" x2="588.8" y2="910.5" stroke="#0a0a0a" stroke-width="2"/><line x1="585.0" y1="898.8" x2="592.5999999999999" y2="898.8" stroke="#0a0a0a" stroke-width="1.8"/><line x1="585.0" y1="910.5" x2="592.5999999999999" y2="910.5" stroke="#0a0a0a" stroke-width="1.8"/>
<line x1="640" y1="898.8" x2="640" y2="910.5" stroke="#0a0a0a" stroke-width="2"/><line x1="636.2" y1="898.8" x2="643.8" y2="898.8" stroke="#0a0a0a" stroke-width="1.8"/><line x1="636.2" y1="910.5" x2="643.8" y2="910.5" stroke="#0a0a0a" stroke-width="1.8"/>
<line x1="665.5" y1="836.8" x2="665.5" y2="912.6" stroke="#0a0a0a" stroke-width="2"/><line x1="661.7" y1="836.8" x2="669.3" y2="836.8" stroke="#0a0a0a" stroke-width="1.8"/><line x1="661.7" y1="912.6" x2="669.3" y2="912.6" stroke="#0a0a0a" stroke-width="1.8"/>
<line x1="755.5" y1="657" x2="755.5" y2="912.6" stroke="#0a0a0a" stroke-width="2"/><line x1="751.7" y1="657" x2="759.3" y2="657" stroke="#0a0a0a" stroke-width="1.8"/><line x1="751.7" y1="912.6" x2="759.3" y2="912.6" stroke="#0a0a0a" stroke-width="1.8"/>
<line x1="821.3" y1="669.5" x2="821.3" y2="912.6" stroke="#0a0a0a" stroke-width="2"/><line x1="817.5" y1="669.5" x2="825.0999999999999" y2="669.5" stroke="#0a0a0a" stroke-width="1.8"/><line x1="817.5" y1="912.6" x2="825.0999999999999" y2="912.6" stroke="#0a0a0a" stroke-width="1.8"/>
<line x1="863.3" y1="651.3" x2="863.3" y2="875.2" stroke="#0a0a0a" stroke-width="2"/><line x1="859.5" y1="651.3" x2="867.0999999999999" y2="651.3" stroke="#0a0a0a" stroke-width="1.8"/><line x1="859.5" y1="875.2" x2="867.0999999999999" y2="875.2" stroke="#0a0a0a" stroke-width="1.8"/>
<line x1="906.5" y1="597.5" x2="906.5" y2="863.8" stroke="#0a0a0a" stroke-width="2"/><line x1="902.7" y1="597.5" x2="910.3" y2="597.5" stroke="#0a0a0a" stroke-width="1.8"/><line x1="902.7" y1="863.8" x2="910.3" y2="863.8" stroke="#0a0a0a" stroke-width="1.8"/>
<line x1="937" y1="594.3" x2="937" y2="897.5" stroke="#0a0a0a" stroke-width="2"/><line x1="933.2" y1="594.3" x2="940.8" y2="594.3" stroke="#0a0a0a" stroke-width="1.8"/><line x1="933.2" y1="897.5" x2="940.8" y2="897.5" stroke="#0a0a0a" stroke-width="1.8"/>
<polyline points="588.8,904.5 640,904.5 665.5,889.3 755.5,789.3 821.3,792 863.3,763.3 906.5,730.8 937,746.3" fill="none" stroke="#0a0a0a" stroke-width="2" stroke-linejoin="round"/>
<circle cx="588.8" cy="904.5" r="3" fill="#0a0a0a"/>
<circle cx="640" cy="904.5" r="3" fill="#0a0a0a"/>
<circle cx="665.5" cy="889.3" r="3" fill="#0a0a0a"/>
<circle cx="755.5" cy="789.3" r="3" fill="#0a0a0a"/>
<circle cx="821.3" cy="792" r="3" fill="#0a0a0a"/>
<circle cx="863.3" cy="763.3" r="3" fill="#0a0a0a"/>
<circle cx="906.5" cy="730.8" r="3" fill="#0a0a0a"/>
<circle cx="937" cy="746.3" r="3" fill="#0a0a0a"/>
</g>
<rect x="550.5" y="575.5" width="105.5" height="46" fill="#fff" stroke="#666" stroke-width="1"/>
<g filter="url(#bc)">
<line x1="556" y1="587.5" x2="588" y2="587.5" stroke="#0a0a0a" stroke-width="1.8" stroke-dasharray="5.4 2.2"/>
<line x1="556" y1="608.2" x2="588" y2="608.2" stroke="#0a0a0a" stroke-width="2"/>
</g>
<text x="592" y="594.6" font-family='"Liberation Sans", sans-serif' font-size="15" textLength="45.5" lengthAdjust="spacingAndGlyphs" fill="#3a3a3a" filter="url(#bt)">Vessel</text>
<text x="591.5" y="615.6" font-family='"Liberation Sans", sans-serif' font-size="15" textLength="61" lengthAdjust="spacingAndGlyphs" fill="#3a3a3a" filter="url(#bt)">Retrieved</text>
<text x="617" y="535" font-family='"Liberation Sans", sans-serif' font-size="15" textLength="309" lengthAdjust="spacingAndGlyphs" fill="#3a3a3a" filter="url(#bt)">Flight SD2 SSS retrieval using Eqn.(3) (Stokes I)</text>
<text x="541" y="554.6" font-family='"Liberation Sans", sans-serif' font-size="15" textLength="453.8" lengthAdjust="spacingAndGlyphs" fill="#3a3a3a" filter="url(#bt)">Bin-Width 2° Ext. TB and SSS Calibration and Spatial Averaging applied</text>
<text x="537" y="918.5" font-family='"Liberation Sans", sans-serif' font-size="14" text-anchor="end" textLength="7.6" lengthAdjust="spacingAndGlyphs" fill="#3a3a3a" filter="url(#bt)">0</text>
<text x="537" y="880.0" font-family='"Liberation Sans", sans-serif' font-size="14" text-anchor="end" textLength="7.6" lengthAdjust="spacingAndGlyphs" fill="#3a3a3a" filter="url(#bt)">1</text>
<text x="537" y="841.5" font-family='"Liberation Sans", sans-serif' font-size="14" text-anchor="end" textLength="7.6" lengthAdjust="spacingAndGlyphs" fill="#3a3a3a" filter="url(#bt)">2</text>
<text x="537" y="803.1" font-family='"Liberation Sans", sans-serif' font-size="14" text-anchor="end" textLength="7.6" lengthAdjust="spacingAndGlyphs" fill="#3a3a3a" filter="url(#bt)">3</text>
<text x="537" y="764.6" font-family='"Liberation Sans", sans-serif' font-size="14" text-anchor="end" textLength="7.6" lengthAdjust="spacingAndGlyphs" fill="#3a3a3a" filter="url(#bt)">4</text>
<text x="537" y="726.1" font-family='"Liberation Sans", sans-serif' font-size="14" text-anchor="end" textLength="7.6" lengthAdjust="spacingAndGlyphs" fill="#3a3a3a" filter="url(#bt)">5</text>
<text x="537" y="687.6" font-family='"Liberation Sans", sans-serif' font-size="14" text-anchor="end" textLength="7.6" lengthAdjust="spacingAndGlyphs" fill="#3a3a3a" filter="url(#bt)">6</text>
<text x="537" y="649.1" font-family='"Liberation Sans", sans-serif' font-size="14" text-anchor="end" textLength="7.6" lengthAdjust="spacingAndGlyphs" fill="#3a3a3a" filter="url(#bt)">7</text>
<text x="537" y="610.7" font-family='"Liberation Sans", sans-serif' font-size="14" text-anchor="end" textLength="7.6" lengthAdjust="spacingAndGlyphs" fill="#3a3a3a" filter="url(#bt)">8</text>
<text x="537" y="572.2" font-family='"Liberation Sans", sans-serif' font-size="14" text-anchor="end" textLength="7.6" lengthAdjust="spacingAndGlyphs" fill="#3a3a3a" filter="url(#bt)">9</text>
<text x="523.0" y="933.8" font-family='"Liberation Sans", sans-serif' font-size="14" textLength="34" lengthAdjust="spacingAndGlyphs" fill="#3a3a3a" filter="url(#bt)">26.45</text>
<text x="619.2" y="933.8" font-family='"Liberation Sans", sans-serif' font-size="14" textLength="26.6" lengthAdjust="spacingAndGlyphs" fill="#3a3a3a" filter="url(#bt)">26.5</text>
<text x="708.0" y="933.8" font-family='"Liberation Sans", sans-serif' font-size="14" textLength="34" lengthAdjust="spacingAndGlyphs" fill="#3a3a3a" filter="url(#bt)">26.55</text>
<text x="804.2" y="933.8" font-family='"Liberation Sans", sans-serif' font-size="14" textLength="26.6" lengthAdjust="spacingAndGlyphs" fill="#3a3a3a" filter="url(#bt)">26.6</text>
<text x="893.0" y="933.8" font-family='"Liberation Sans", sans-serif' font-size="14" textLength="34" lengthAdjust="spacingAndGlyphs" fill="#3a3a3a" filter="url(#bt)">26.65</text>
<text x="989.2" y="933.8" font-family='"Liberation Sans", sans-serif' font-size="14" textLength="26.6" lengthAdjust="spacingAndGlyphs" fill="#3a3a3a" filter="url(#bt)">26.7</text>
<text x="691" y="951.3" font-family='"Liberation Sans", sans-serif' font-size="15" textLength="161.4" lengthAdjust="spacingAndGlyphs" fill="#3a3a3a" filter="url(#bt)">Flight-Track Longitude [°]</text>
<text transform="translate(519.5,740.7) rotate(-90)" text-anchor="middle" font-family='"Liberation Sans", sans-serif' font-size="15" fill="#262626" textLength="129.4" lengthAdjust="spacingAndGlyphs" filter="url(#bt)">Sea Surface Salinity</text>
</g>
</svg>
</body></html>
